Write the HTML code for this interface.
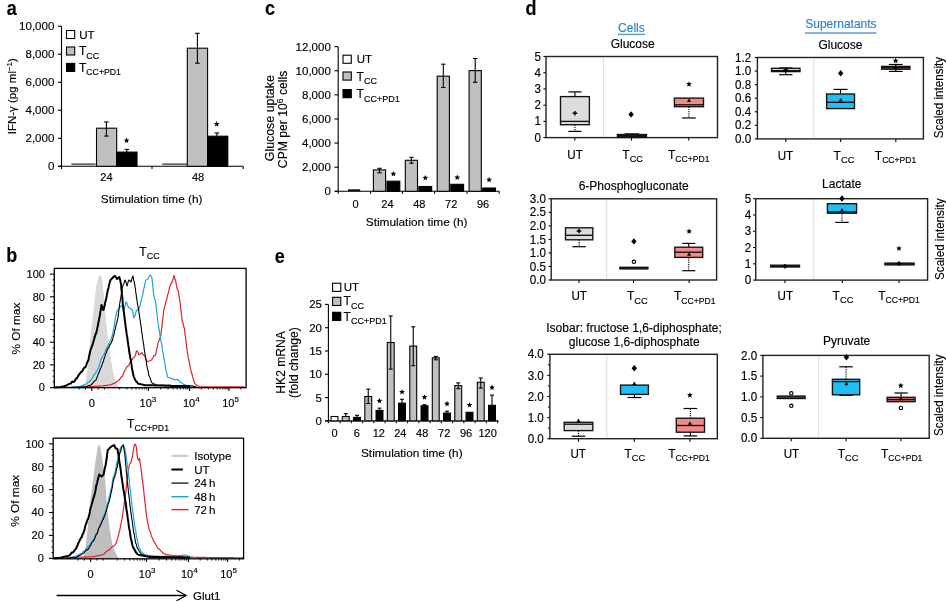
<!DOCTYPE html>
<html><head><meta charset="utf-8"><style>
html,body{margin:0;padding:0;background:#fff;}
svg{display:block;will-change:transform;}
text{font-family:"Liberation Sans", sans-serif;stroke:#000;stroke-width:0.15px;}
</style></head><body>
<svg width="946" height="602" viewBox="0 0 946 602">
<rect x="0" y="0" width="946" height="602" fill="#fff"/>
<text transform="translate(6.8,14.6) scale(0.9,1.0)" font-size="20" font-weight="bold">a</text>
<text transform="translate(6.2,262.4) scale(0.9,1.0)" font-size="20" font-weight="bold">b</text>
<text transform="translate(265,14.6) scale(0.9,1.0)" font-size="20" font-weight="bold">c</text>
<text transform="translate(525.6,14.6) scale(0.9,1.0)" font-size="20" font-weight="bold">d</text>
<text transform="translate(274.8,263.4) scale(0.9,1.0)" font-size="20" font-weight="bold">e</text>
<line x1="61.5" y1="26.2" x2="61.5" y2="169" stroke="#000" stroke-width="1.1"/>
<line x1="58" y1="166.3" x2="243.2" y2="166.3" stroke="#000" stroke-width="1.1"/>
<line x1="58" y1="166.3" x2="61.5" y2="166.3" stroke="#000" stroke-width="1.1"/>
<text transform="translate(54.3,170.2)" font-size="11.5" text-anchor="end">0</text>
<line x1="58" y1="138.28" x2="61.5" y2="138.28" stroke="#000" stroke-width="1.1"/>
<text transform="translate(54.3,142.18)" font-size="11.5" text-anchor="end">2,000</text>
<line x1="58" y1="110.26" x2="61.5" y2="110.26" stroke="#000" stroke-width="1.1"/>
<text transform="translate(54.3,114.16)" font-size="11.5" text-anchor="end">4,000</text>
<line x1="58" y1="82.24" x2="61.5" y2="82.24" stroke="#000" stroke-width="1.1"/>
<text transform="translate(54.3,86.14)" font-size="11.5" text-anchor="end">6,000</text>
<line x1="58" y1="54.22" x2="61.5" y2="54.22" stroke="#000" stroke-width="1.1"/>
<text transform="translate(54.3,58.12)" font-size="11.5" text-anchor="end">8,000</text>
<line x1="58" y1="26.2" x2="61.5" y2="26.2" stroke="#000" stroke-width="1.1"/>
<text transform="translate(54.3,30.1)" font-size="11.5" text-anchor="end">10,000</text>
<line x1="152" y1="166.3" x2="152" y2="169" stroke="#000" stroke-width="1.1"/>
<line x1="243.2" y1="166.3" x2="243.2" y2="169" stroke="#000" stroke-width="1.1"/>
<line x1="71.4" y1="164.2" x2="95.5" y2="164.2" stroke="#666" stroke-width="1.8"/>
<rect x="96.5" y="128.2" width="20.2" height="38.1" fill="#c0c0c0" stroke="#000" stroke-width="1.1"/>
<rect x="116.7" y="152.1" width="20.3" height="14.2" fill="#000" stroke="#000" stroke-width="1.1"/>
<line x1="106.4" y1="122" x2="106.4" y2="136.1" stroke="#000" stroke-width="1.1"/>
<line x1="104.1" y1="122" x2="108.7" y2="122" stroke="#000" stroke-width="1.1"/>
<line x1="104.1" y1="136.1" x2="108.7" y2="136.1" stroke="#000" stroke-width="1.1"/>
<line x1="126.8" y1="149.4" x2="126.8" y2="152.1" stroke="#000" stroke-width="1.1"/>
<line x1="124.5" y1="149.4" x2="129.1" y2="149.4" stroke="#000" stroke-width="1.1"/>
<path d="M126.6,137.6 L127.39,139.51 L129.45,139.67 L127.88,141.02 L128.36,143.03 L126.6,141.95 L124.84,143.03 L125.32,141.02 L123.75,139.67 L125.81,139.51Z" fill="#000" stroke-linejoin="round"/>
<line x1="162.4" y1="164.2" x2="187.3" y2="164.2" stroke="#666" stroke-width="1.8"/>
<rect x="187.3" y="48.2" width="20.3" height="118.1" fill="#c0c0c0" stroke="#000" stroke-width="1.1"/>
<rect x="207.6" y="136.2" width="20.2" height="30.1" fill="#000" stroke="#000" stroke-width="1.1"/>
<line x1="197.4" y1="33.3" x2="197.4" y2="63.2" stroke="#000" stroke-width="1.1"/>
<line x1="195.1" y1="33.3" x2="199.7" y2="33.3" stroke="#000" stroke-width="1.1"/>
<line x1="195.1" y1="63.2" x2="199.7" y2="63.2" stroke="#000" stroke-width="1.1"/>
<line x1="216.9" y1="133" x2="216.9" y2="136.2" stroke="#000" stroke-width="1.1"/>
<line x1="214.6" y1="133" x2="219.2" y2="133" stroke="#000" stroke-width="1.1"/>
<path d="M216.7,121.1 L217.49,123.01 L219.55,123.17 L217.98,124.52 L218.46,126.53 L216.7,125.45 L214.94,126.53 L215.42,124.52 L213.85,123.17 L215.91,123.01Z" fill="#000" stroke-linejoin="round"/>
<text transform="translate(106.4,181.2)" font-size="11" text-anchor="middle">24</text>
<text transform="translate(198,181.2)" font-size="11" text-anchor="middle">48</text>
<text transform="translate(151.6,202.6)" font-size="11.8" text-anchor="middle">Stimulation time (h)</text>
<text transform="translate(15.6,96.2) rotate(-90)" font-size="11.5" text-anchor="middle">IFN-γ (pg ml<tspan font-size="8" dy="-4">−1</tspan><tspan dy="4">)</tspan></text>
<rect x="66.5" y="30.5" width="8.2" height="8" fill="#fff" stroke="#000" stroke-width="1.1"/>
<rect x="66.5" y="47" width="8.2" height="8" fill="#c0c0c0" stroke="#000" stroke-width="1.1"/>
<rect x="66.5" y="63.4" width="8.2" height="8" fill="#000" stroke="#000" stroke-width="1.1"/>
<text transform="translate(79.3,38.6)" font-size="11.5">UT</text>
<text transform="translate(79,55)" font-size="12">T<tspan font-size="9" dy="3.6">CC</tspan></text>
<text transform="translate(79,71.5)" font-size="12">T<tspan font-size="8.7" dy="3.6">CC+PD1</tspan></text>
<line x1="338.2" y1="46.64" x2="338.2" y2="193.8" stroke="#000" stroke-width="1.1"/>
<line x1="335" y1="191.3" x2="499.2" y2="191.3" stroke="#000" stroke-width="1.1"/>
<line x1="334.5" y1="191.3" x2="338.2" y2="191.3" stroke="#000" stroke-width="1.1"/>
<text transform="translate(330.8,195.2)" font-size="11.5" text-anchor="end">0</text>
<line x1="334.5" y1="167.19" x2="338.2" y2="167.19" stroke="#000" stroke-width="1.1"/>
<text transform="translate(330.8,171.09)" font-size="11.5" text-anchor="end">2,000</text>
<line x1="334.5" y1="143.08" x2="338.2" y2="143.08" stroke="#000" stroke-width="1.1"/>
<text transform="translate(330.8,146.98)" font-size="11.5" text-anchor="end">4,000</text>
<line x1="334.5" y1="118.97" x2="338.2" y2="118.97" stroke="#000" stroke-width="1.1"/>
<text transform="translate(330.8,122.87)" font-size="11.5" text-anchor="end">6,000</text>
<line x1="334.5" y1="94.86" x2="338.2" y2="94.86" stroke="#000" stroke-width="1.1"/>
<text transform="translate(330.8,98.76)" font-size="11.5" text-anchor="end">8,000</text>
<line x1="334.5" y1="70.75" x2="338.2" y2="70.75" stroke="#000" stroke-width="1.1"/>
<text transform="translate(330.8,74.65)" font-size="11.5" text-anchor="end">10,000</text>
<line x1="334.5" y1="46.64" x2="338.2" y2="46.64" stroke="#000" stroke-width="1.1"/>
<text transform="translate(330.8,50.54)" font-size="11.5" text-anchor="end">12,000</text>
<line x1="370.6" y1="191.3" x2="370.6" y2="193.8" stroke="#000" stroke-width="1.1"/>
<line x1="402.5" y1="191.3" x2="402.5" y2="193.8" stroke="#000" stroke-width="1.1"/>
<line x1="434.6" y1="191.3" x2="434.6" y2="193.8" stroke="#000" stroke-width="1.1"/>
<line x1="467" y1="191.3" x2="467" y2="193.8" stroke="#000" stroke-width="1.1"/>
<line x1="499.2" y1="191.3" x2="499.2" y2="193.8" stroke="#000" stroke-width="1.1"/>
<rect x="348" y="189.3" width="12.2" height="2" fill="#111"/>
<rect x="373.4" y="169.9" width="12.2" height="21.4" fill="#c0c0c0" stroke="#000" stroke-width="1.1"/>
<rect x="387" y="181.2" width="12.8" height="10.1" fill="#000" stroke="#000" stroke-width="1.1"/>
<line x1="379.5" y1="168.3" x2="379.5" y2="172.8" stroke="#000" stroke-width="1.1"/>
<line x1="377.3" y1="168.3" x2="381.7" y2="168.3" stroke="#000" stroke-width="1.1"/>
<line x1="377.3" y1="172.8" x2="381.7" y2="172.8" stroke="#000" stroke-width="1.1"/>
<path d="M393.4,170.9 L394.19,172.81 L396.25,172.97 L394.68,174.32 L395.16,176.33 L393.4,175.25 L391.64,176.33 L392.12,174.32 L390.55,172.97 L392.61,172.81Z" fill="#000" stroke-linejoin="round"/>
<rect x="405.3" y="160.3" width="12.2" height="31" fill="#c0c0c0" stroke="#000" stroke-width="1.1"/>
<rect x="418.9" y="186.5" width="12.8" height="4.8" fill="#000" stroke="#000" stroke-width="1.1"/>
<line x1="411.4" y1="157.3" x2="411.4" y2="163.2" stroke="#000" stroke-width="1.1"/>
<line x1="409.2" y1="157.3" x2="413.6" y2="157.3" stroke="#000" stroke-width="1.1"/>
<line x1="409.2" y1="163.2" x2="413.6" y2="163.2" stroke="#000" stroke-width="1.1"/>
<path d="M425.3,174.9 L426.09,176.81 L428.15,176.97 L426.58,178.32 L427.06,180.33 L425.3,179.25 L423.54,180.33 L424.02,178.32 L422.45,176.97 L424.51,176.81Z" fill="#000" stroke-linejoin="round"/>
<rect x="437.2" y="76.2" width="12.2" height="115.1" fill="#c0c0c0" stroke="#000" stroke-width="1.1"/>
<rect x="450.8" y="184.3" width="12.8" height="7" fill="#000" stroke="#000" stroke-width="1.1"/>
<line x1="443.3" y1="64.2" x2="443.3" y2="87.5" stroke="#000" stroke-width="1.1"/>
<line x1="441.1" y1="64.2" x2="445.5" y2="64.2" stroke="#000" stroke-width="1.1"/>
<line x1="441.1" y1="87.5" x2="445.5" y2="87.5" stroke="#000" stroke-width="1.1"/>
<path d="M457.2,174.5 L457.99,176.41 L460.05,176.57 L458.48,177.92 L458.96,179.93 L457.2,178.85 L455.44,179.93 L455.92,177.92 L454.35,176.57 L456.41,176.41Z" fill="#000" stroke-linejoin="round"/>
<rect x="469.1" y="70.6" width="12.2" height="120.7" fill="#c0c0c0" stroke="#000" stroke-width="1.1"/>
<rect x="482.7" y="188" width="12.8" height="3.3" fill="#000" stroke="#000" stroke-width="1.1"/>
<line x1="475.2" y1="58.5" x2="475.2" y2="82.3" stroke="#000" stroke-width="1.1"/>
<line x1="473" y1="58.5" x2="477.4" y2="58.5" stroke="#000" stroke-width="1.1"/>
<line x1="473" y1="82.3" x2="477.4" y2="82.3" stroke="#000" stroke-width="1.1"/>
<path d="M489.1,176.8 L489.89,178.71 L491.95,178.87 L490.38,180.22 L490.86,182.23 L489.1,181.15 L487.34,182.23 L487.82,180.22 L486.25,178.87 L488.31,178.71Z" fill="#000" stroke-linejoin="round"/>
<text transform="translate(355.5,207.8)" font-size="11" text-anchor="middle">0</text>
<text transform="translate(387.4,207.8)" font-size="11" text-anchor="middle">24</text>
<text transform="translate(419.3,207.8)" font-size="11" text-anchor="middle">48</text>
<text transform="translate(451.2,207.8)" font-size="11" text-anchor="middle">72</text>
<text transform="translate(483.1,207.8)" font-size="11" text-anchor="middle">96</text>
<text transform="translate(416.6,225.8)" font-size="11.8" text-anchor="middle">Stimulation time (h)</text>
<text transform="translate(274.4,118.2) rotate(-90)" font-size="12.4" text-anchor="middle">Glucose uptake</text>
<text transform="translate(286.7,119.4) rotate(-90)" font-size="12.2" text-anchor="middle">CPM per 10<tspan font-size="8.5" dy="-4.2">6</tspan><tspan dy="4.2"> cells</tspan></text>
<rect x="343" y="55.2" width="8.3" height="8.1" fill="#fff" stroke="#000" stroke-width="1.1"/>
<rect x="343" y="72" width="8.3" height="8.1" fill="#c0c0c0" stroke="#000" stroke-width="1.1"/>
<rect x="343" y="89.6" width="8.3" height="8.1" fill="#000" stroke="#000" stroke-width="1.1"/>
<text transform="translate(356.8,63.1)" font-size="11.5">UT</text>
<text transform="translate(356.6,80.5)" font-size="12">T<tspan font-size="9" dy="3.6">CC</tspan></text>
<text transform="translate(356.6,97.9)" font-size="12">T<tspan font-size="9" dy="3.6">CC+PD1</tspan></text>
<line x1="328.4" y1="304.4" x2="328.4" y2="423.3" stroke="#000" stroke-width="1.1"/>
<line x1="325" y1="420.9" x2="498.6" y2="420.9" stroke="#000" stroke-width="1.1"/>
<line x1="325" y1="420.9" x2="328.4" y2="420.9" stroke="#000" stroke-width="1.1"/>
<text transform="translate(322,424.8)" font-size="11.5" text-anchor="end">0</text>
<line x1="325" y1="397.6" x2="328.4" y2="397.6" stroke="#000" stroke-width="1.1"/>
<text transform="translate(322,401.5)" font-size="11.5" text-anchor="end">5</text>
<line x1="325" y1="374.3" x2="328.4" y2="374.3" stroke="#000" stroke-width="1.1"/>
<text transform="translate(322,378.2)" font-size="11.5" text-anchor="end">10</text>
<line x1="325" y1="351" x2="328.4" y2="351" stroke="#000" stroke-width="1.1"/>
<text transform="translate(322,354.9)" font-size="11.5" text-anchor="end">15</text>
<line x1="325" y1="327.7" x2="328.4" y2="327.7" stroke="#000" stroke-width="1.1"/>
<text transform="translate(322,331.6)" font-size="11.5" text-anchor="end">20</text>
<line x1="325" y1="304.4" x2="328.4" y2="304.4" stroke="#000" stroke-width="1.1"/>
<text transform="translate(322,308.3)" font-size="11.5" text-anchor="end">25</text>
<line x1="340.1" y1="420.9" x2="340.1" y2="423.3" stroke="#000" stroke-width="1.1"/>
<line x1="351.35" y1="420.9" x2="351.35" y2="423.3" stroke="#000" stroke-width="1.1"/>
<line x1="362.6" y1="420.9" x2="362.6" y2="423.3" stroke="#000" stroke-width="1.1"/>
<line x1="373.85" y1="420.9" x2="373.85" y2="423.3" stroke="#000" stroke-width="1.1"/>
<line x1="385.1" y1="420.9" x2="385.1" y2="423.3" stroke="#000" stroke-width="1.1"/>
<line x1="396.35" y1="420.9" x2="396.35" y2="423.3" stroke="#000" stroke-width="1.1"/>
<line x1="407.6" y1="420.9" x2="407.6" y2="423.3" stroke="#000" stroke-width="1.1"/>
<line x1="418.85" y1="420.9" x2="418.85" y2="423.3" stroke="#000" stroke-width="1.1"/>
<line x1="430.1" y1="420.9" x2="430.1" y2="423.3" stroke="#000" stroke-width="1.1"/>
<line x1="441.35" y1="420.9" x2="441.35" y2="423.3" stroke="#000" stroke-width="1.1"/>
<line x1="452.6" y1="420.9" x2="452.6" y2="423.3" stroke="#000" stroke-width="1.1"/>
<line x1="463.85" y1="420.9" x2="463.85" y2="423.3" stroke="#000" stroke-width="1.1"/>
<line x1="475.1" y1="420.9" x2="475.1" y2="423.3" stroke="#000" stroke-width="1.1"/>
<line x1="486.35" y1="420.9" x2="486.35" y2="423.3" stroke="#000" stroke-width="1.1"/>
<line x1="497.6" y1="420.9" x2="497.6" y2="423.3" stroke="#000" stroke-width="1.1"/>
<rect x="331.05" y="416.5" width="6.9" height="4.4" fill="#fff" stroke="#000" stroke-width="1.1"/>
<rect x="342.3" y="416.5" width="6.9" height="4.4" fill="#c0c0c0" stroke="#000" stroke-width="1.1"/>
<line x1="345.75" y1="413.6" x2="345.75" y2="416.5" stroke="#000" stroke-width="1.1"/>
<line x1="343.75" y1="413.6" x2="347.75" y2="413.6" stroke="#000" stroke-width="1.1"/>
<rect x="353.55" y="417.4" width="6.9" height="3.5" fill="#000" stroke="#000" stroke-width="1.1"/>
<line x1="357" y1="415.3" x2="357" y2="417.4" stroke="#000" stroke-width="1.1"/>
<line x1="355" y1="415.3" x2="359" y2="415.3" stroke="#000" stroke-width="1.1"/>
<rect x="364.8" y="396.5" width="6.9" height="24.4" fill="#c0c0c0" stroke="#000" stroke-width="1.1"/>
<line x1="368.25" y1="389.1" x2="368.25" y2="403.5" stroke="#000" stroke-width="1.1"/>
<line x1="366.25" y1="389.1" x2="370.25" y2="389.1" stroke="#000" stroke-width="1.1"/>
<line x1="366.25" y1="403.5" x2="370.25" y2="403.5" stroke="#000" stroke-width="1.1"/>
<rect x="376.05" y="410.4" width="6.9" height="10.5" fill="#000" stroke="#000" stroke-width="1.1"/>
<line x1="379.5" y1="408.2" x2="379.5" y2="410.4" stroke="#000" stroke-width="1.1"/>
<line x1="377.5" y1="408.2" x2="381.5" y2="408.2" stroke="#000" stroke-width="1.1"/>
<path d="M379.5,397.9 L380.29,399.81 L382.35,399.97 L380.78,401.32 L381.26,403.33 L379.5,402.25 L377.74,403.33 L378.22,401.32 L376.65,399.97 L378.71,399.81Z" fill="#000" stroke-linejoin="round"/>
<rect x="387.3" y="342.5" width="6.9" height="78.4" fill="#c0c0c0" stroke="#000" stroke-width="1.1"/>
<line x1="390.75" y1="315.9" x2="390.75" y2="369.1" stroke="#000" stroke-width="1.1"/>
<line x1="388.75" y1="315.9" x2="392.75" y2="315.9" stroke="#000" stroke-width="1.1"/>
<line x1="388.75" y1="369.1" x2="392.75" y2="369.1" stroke="#000" stroke-width="1.1"/>
<rect x="398.55" y="403.2" width="6.9" height="17.7" fill="#000" stroke="#000" stroke-width="1.1"/>
<line x1="402" y1="399.3" x2="402" y2="403.2" stroke="#000" stroke-width="1.1"/>
<line x1="400" y1="399.3" x2="404" y2="399.3" stroke="#000" stroke-width="1.1"/>
<path d="M402,389 L402.79,390.91 L404.85,391.07 L403.28,392.42 L403.76,394.43 L402,393.35 L400.24,394.43 L400.72,392.42 L399.15,391.07 L401.21,390.91Z" fill="#000" stroke-linejoin="round"/>
<rect x="409.8" y="346.1" width="6.9" height="74.8" fill="#c0c0c0" stroke="#000" stroke-width="1.1"/>
<line x1="413.25" y1="326.8" x2="413.25" y2="365.7" stroke="#000" stroke-width="1.1"/>
<line x1="411.25" y1="326.8" x2="415.25" y2="326.8" stroke="#000" stroke-width="1.1"/>
<line x1="411.25" y1="365.7" x2="415.25" y2="365.7" stroke="#000" stroke-width="1.1"/>
<rect x="421.05" y="405.8" width="6.9" height="15.1" fill="#000" stroke="#000" stroke-width="1.1"/>
<line x1="424.5" y1="404.7" x2="424.5" y2="405.8" stroke="#000" stroke-width="1.1"/>
<line x1="422.5" y1="404.7" x2="426.5" y2="404.7" stroke="#000" stroke-width="1.1"/>
<path d="M424.5,394.2 L425.29,396.11 L427.35,396.27 L425.78,397.62 L426.26,399.63 L424.5,398.55 L422.74,399.63 L423.22,397.62 L421.65,396.27 L423.71,396.11Z" fill="#000" stroke-linejoin="round"/>
<rect x="432.3" y="357.8" width="6.9" height="63.1" fill="#c0c0c0" stroke="#000" stroke-width="1.1"/>
<line x1="435.75" y1="356.4" x2="435.75" y2="359.8" stroke="#000" stroke-width="1.1"/>
<line x1="433.75" y1="356.4" x2="437.75" y2="356.4" stroke="#000" stroke-width="1.1"/>
<line x1="433.75" y1="359.8" x2="437.75" y2="359.8" stroke="#000" stroke-width="1.1"/>
<rect x="443.55" y="413.1" width="6.9" height="7.8" fill="#000" stroke="#000" stroke-width="1.1"/>
<line x1="447" y1="411.2" x2="447" y2="413.1" stroke="#000" stroke-width="1.1"/>
<line x1="445" y1="411.2" x2="449" y2="411.2" stroke="#000" stroke-width="1.1"/>
<path d="M447,400.8 L447.79,402.71 L449.85,402.87 L448.28,404.22 L448.76,406.23 L447,405.15 L445.24,406.23 L445.72,404.22 L444.15,402.87 L446.21,402.71Z" fill="#000" stroke-linejoin="round"/>
<rect x="454.8" y="385.6" width="6.9" height="35.3" fill="#c0c0c0" stroke="#000" stroke-width="1.1"/>
<line x1="458.25" y1="382.9" x2="458.25" y2="388.7" stroke="#000" stroke-width="1.1"/>
<line x1="456.25" y1="382.9" x2="460.25" y2="382.9" stroke="#000" stroke-width="1.1"/>
<line x1="456.25" y1="388.7" x2="460.25" y2="388.7" stroke="#000" stroke-width="1.1"/>
<rect x="466.05" y="412.3" width="6.9" height="8.6" fill="#000" stroke="#000" stroke-width="1.1"/>
<path d="M469.5,402 L470.29,403.91 L472.35,404.07 L470.78,405.42 L471.26,407.43 L469.5,406.35 L467.74,407.43 L468.22,405.42 L466.65,404.07 L468.71,403.91Z" fill="#000" stroke-linejoin="round"/>
<rect x="477.3" y="382.3" width="6.9" height="38.6" fill="#c0c0c0" stroke="#000" stroke-width="1.1"/>
<line x1="480.75" y1="378" x2="480.75" y2="388.1" stroke="#000" stroke-width="1.1"/>
<line x1="478.75" y1="378" x2="482.75" y2="378" stroke="#000" stroke-width="1.1"/>
<line x1="478.75" y1="388.1" x2="482.75" y2="388.1" stroke="#000" stroke-width="1.1"/>
<rect x="488.55" y="405.3" width="6.9" height="15.6" fill="#000" stroke="#000" stroke-width="1.1"/>
<line x1="492" y1="395.1" x2="492" y2="405.3" stroke="#000" stroke-width="1.1"/>
<line x1="490" y1="395.1" x2="494" y2="395.1" stroke="#000" stroke-width="1.1"/>
<path d="M492,384.6 L492.79,386.51 L494.85,386.67 L493.28,388.02 L493.76,390.03 L492,388.95 L490.24,390.03 L490.72,388.02 L489.15,386.67 L491.21,386.51Z" fill="#000" stroke-linejoin="round"/>
<text transform="translate(334.6,436.8)" font-size="11" text-anchor="middle">0</text>
<text transform="translate(356.8,436.8)" font-size="11" text-anchor="middle">6</text>
<text transform="translate(378.8,436.8)" font-size="11" text-anchor="middle">12</text>
<text transform="translate(400.3,436.8)" font-size="11" text-anchor="middle">24</text>
<text transform="translate(422.2,436.8)" font-size="11" text-anchor="middle">48</text>
<text transform="translate(444.2,436.8)" font-size="11" text-anchor="middle">72</text>
<text transform="translate(466,436.8)" font-size="11" text-anchor="middle">96</text>
<text transform="translate(487.6,436.8)" font-size="11" text-anchor="middle">120</text>
<text transform="translate(411.8,457.1)" font-size="11.8" text-anchor="middle">Stimulation time (h)</text>
<text transform="translate(284.8,362.4) rotate(-90)" font-size="12.1" text-anchor="middle">HK2 mRNA</text>
<text transform="translate(298,362.6) rotate(-90)" font-size="12.1" text-anchor="middle">(fold change)</text>
<rect x="332.6" y="283.2" width="8.2" height="8.2" fill="#fff" stroke="#000" stroke-width="1.1"/>
<rect x="332.6" y="297.3" width="8.2" height="8.2" fill="#c0c0c0" stroke="#000" stroke-width="1.1"/>
<rect x="332.6" y="312.3" width="8.2" height="8.2" fill="#000" stroke="#000" stroke-width="1.1"/>
<text transform="translate(343.8,290.9)" font-size="11.5">UT</text>
<text transform="translate(343.6,305.4)" font-size="12">T<tspan font-size="9" dy="3.6">CC</tspan></text>
<text transform="translate(343.6,320.5)" font-size="12">T<tspan font-size="9" dy="3.6">CC+PD1</tspan></text>
<path d="M80,387.6 L85,384 L87.5,370 L90,339.8 L93,315.8 L96,288 L98.5,276.5 L100.5,274.8 L101.9,278 L103.9,296 L105.9,319.8 L108.9,345.7 L110.9,359.7 L112.9,371.7 L115.9,381.6 L119,386.5 L122,387.6Z" fill="#d9d9d9" stroke-linejoin="round"/>
<path d="M56,387.4 L57.6,387.39 L59.2,387.39 L60.8,387.38 L62.4,387.37 L64,387.37 L65.6,387.36 L67.2,387.35 L68.8,387.35 L70.4,387.34 L72,387.33 L73.6,387.33 L75.2,387.32 L76.8,387.31 L78.4,387.31 L80,387.3 L81.66,387.2 L83.32,387.1 L84.98,387 L86.65,386.9 L88.31,386.8 L89.97,386.7 L91.63,386.6 L93.29,386.5 L94.95,386.4 L96.62,386.3 L98.28,386.2 L99.94,386.1 L101.6,386 L103.28,385.8 L104.96,385.6 L106.64,385.4 L108.32,385.2 L110,385 L111.67,384.33 L113.33,383.67 L115,383 L116.5,381.68 L118,381 L120,379 L121,377.04 L122,376.61 L123,375 L123.67,372.56 L124.33,371.73 L125,370 L126,368.46 L127,366.6 L128,366.11 L129,364.8 L129.97,362.57 L130.93,361.88 L131.9,359.83 L132.87,358.46 L133.83,357.66 L134.8,356.4 L135.5,355.09 L136.2,351.92 L136.9,350.7 L137.9,352.2 L138.9,354.7 L140.4,353.93 L141.9,352.7 L143.4,355.01 L144.9,355.7 L145.57,357.84 L146.23,359.51 L146.9,361.7 L149.9,360.7 L151.4,360.06 L152.9,357.7 L153.9,355.55 L154.9,355.68 L155.9,353.7 L156.23,351.65 L156.57,349.73 L156.9,348.01 L157.23,346.69 L157.57,345.94 L157.9,343.7 L158.48,341.55 L159.06,340.69 L159.64,339.21 L160.22,337.15 L160.8,335.8 L161.01,334.16 L161.23,331.56 L161.44,329.83 L161.65,328.37 L161.86,327.5 L162.07,325.32 L162.29,323.39 L162.5,322 L162.69,320.43 L162.87,318.46 L163.06,316.45 L163.24,315.62 L163.43,313.72 L163.61,311.17 L163.8,309.9 L164.23,308.31 L164.65,306.5 L165.07,305.4 L165.5,303 L165.96,301.77 L166.42,299.34 L166.88,298.94 L167.34,295.75 L167.8,294.8 L168.22,293.01 L168.64,291.98 L169.06,289.25 L169.48,288.22 L169.9,286.6 L170.9,283.72 L171.9,282.5 L172.45,281.05 L173,279 L173.5,277.63 L174,275.3 L174.5,277 L175,279.11 L175.5,280 L175.82,281.4 L176.14,283.83 L176.46,285.39 L176.78,287.1 L177.1,288.7 L177.8,290.27 L178.5,292 L178.78,294.45 L179.07,296.47 L179.35,297.45 L179.63,299.63 L179.92,300.38 L180.2,303 L180.38,305.05 L180.56,306.65 L180.75,308.96 L180.93,310.34 L181.11,311.07 L181.29,312.94 L181.47,315.14 L181.65,315.67 L181.84,318.15 L182.02,319.31 L182.2,321.6 L182.72,322.46 L183.25,323.91 L183.78,326.73 L184.3,327.8 L184.51,328.88 L184.73,330.83 L184.94,332.83 L185.16,335.44 L185.37,335.76 L185.59,338.17 L185.8,340 L186.03,341.87 L186.26,344.26 L186.49,345.93 L186.71,347.8 L186.94,348.53 L187.17,350.56 L187.4,352.5 L187.7,353.89 L188,356.48 L188.3,358.25 L188.6,358.44 L188.9,360.13 L189.2,361.87 L189.5,364 L189.9,365.34 L190.3,367.61 L190.7,369.62 L191.1,370.85 L191.5,373.1 L192,373.93 L192.5,376.4 L193,378.04 L193.5,380 L194.2,381.59 L194.9,383.75 L195.6,384.4 L196.97,385.23 L198.33,386.07 L199.7,386.9 L201.3,386.9 L202.9,386.9 L204.5,386.9 L206.1,386.9 L207.7,386.9 L209.3,386.9 L210.9,386.9 L212.5,386.9 L214.1,386.9 L215.7,386.9 L217.3,386.9 L218.9,386.9 L220.5,386.9 L222.1,386.9 L223.7,386.9 L225.3,386.9 L226.9,386.9 L228.5,386.9 L230.1,386.9 L231.7,386.9 L233.3,386.9 L234.9,386.9 L236.5,386.9 L238.1,386.9 L239.7,386.9 L241.3,386.9 L242.9,386.9 L244.5,386.9" fill="none" stroke="#db2529" stroke-width="1.2" stroke-linejoin="round"/>
<path d="M70,387.3 L71.67,387.17 L73.33,387.03 L75,386.9 L76.67,386.77 L78.33,386.63 L80,386.5 L81.67,385.83 L83.33,385.17 L85,384.5 L86.67,383.68 L88.33,382.19 L90,381 L91,379.88 L92,378.65 L93,377 L94,374.53 L95,374.39 L96,372 L96.75,371 L97.5,369.67 L98.25,368.04 L99,366 L99.67,363.81 L100.33,361.82 L101,360 L102,357.29 L103,356 L104,354.24 L105,352 L105.75,349.71 L106.5,348.22 L107.25,346.98 L108,346 L108.75,343.89 L109.5,342.71 L110.25,340.69 L111,340 L111.5,337.43 L112,336.04 L112.5,335 L112.83,332.62 L113.17,331.42 L113.5,330 L113.77,327.51 L114.05,327.4 L114.32,325.3 L114.59,322.82 L114.86,321.37 L115.14,319.91 L115.41,318.3 L115.68,316.23 L115.95,315.9 L116.23,314.52 L116.5,312 L117.75,310.19 L119,308.5 L120,307.17 L121,305.9 L122,306.49 L123,307.85 L124,309.9 L124.4,308.02 L124.8,306.28 L125.2,305.69 L125.6,302.89 L126,301.9 L126.75,302.54 L127.5,305.71 L128.25,306.45 L129,307.9 L130.5,308.26 L132,309.9 L132.4,311.56 L132.8,312.21 L133.2,314.69 L133.6,317.08 L134,317.8 L134.58,316.87 L135.16,314.99 L135.74,312.63 L136.32,311.24 L136.9,309.9 L138.9,309.9 L139.3,307.58 L139.7,306.94 L140.1,304.78 L140.5,303 L140.97,301.8 L141.43,299.29 L141.9,297.9 L142.23,295.75 L142.57,295.16 L142.9,293.82 L143.23,291.93 L143.57,290.2 L143.9,288 L144.3,286.97 L144.7,285.23 L145.1,282.71 L145.5,281.63 L145.9,280 L147.9,279 L148.9,276.74 L149.9,275 L150.9,275.65 L151.9,278 L152.08,278.78 L152.26,280.86 L152.45,282.45 L152.63,284.86 L152.81,286.96 L152.99,287.67 L153.17,290.18 L153.35,291.9 L153.54,293.46 L153.72,294.03 L153.9,295.9 L154.3,297 L154.7,298.61 L155.1,300.15 L155.5,301.77 L155.9,303.9 L156.08,305.75 L156.26,307.88 L156.45,309.39 L156.63,310.37 L156.81,312.31 L156.99,314.2 L157.17,314.54 L157.35,317.21 L157.54,319.28 L157.72,320.68 L157.9,321.8 L158.16,323.89 L158.43,325.03 L158.69,326.13 L158.95,328.87 L159.22,329.68 L159.48,332.16 L159.75,334.1 L160.01,334.7 L160.27,336.35 L160.54,338.97 L160.8,339.8 L161.1,341.92 L161.4,342.65 L161.7,344.29 L162,346.05 L162.3,349.13 L162.6,350.67 L162.9,351.2 L163.2,354.15 L163.5,356.14 L163.8,357 L164.08,359.12 L164.37,360.4 L164.65,362.59 L164.93,363.67 L165.22,365.29 L165.5,368 L165.96,370.69 L166.42,371.95 L166.88,373.57 L167.34,376.14 L167.8,377.2 L169.9,377.88 L172,378.8 L173.7,379.64 L175.4,379.72 L177.1,379.3 L178.55,380.13 L180,382 L181.65,382.75 L183.3,384.4 L184.98,384.92 L186.65,385.45 L188.32,385.98 L190,386.5 L191.87,386.77 L193.73,387.03 L195.6,387.3" fill="none" stroke="#1fa3dc" stroke-width="1.2" stroke-linejoin="round"/>
<path d="M72,387.4 L73.62,387.32 L75.25,387.25 L76.88,387.18 L78.5,387.1 L80.12,387.02 L81.75,386.95 L83.38,386.88 L85,386.8 L87,386.2 L89,385.6 L91,385 L92.25,383.75 L93.5,382.13 L94.75,380.78 L96,380 L96.61,378.6 L97.22,376.46 L97.83,375.19 L98.44,373.11 L99.06,372.96 L99.67,370.4 L100.28,369.04 L100.89,367.71 L101.5,366 L102.06,365.17 L102.61,362.75 L103.17,362.09 L103.72,359.78 L104.28,358.28 L104.83,356.71 L105.39,354.24 L105.94,353.45 L106.5,352 L107.25,349.93 L108,348.11 L108.75,348.04 L109.5,345.41 L110.25,344.45 L111,343.41 L111.75,341.6 L112.5,340 L112.92,338.02 L113.33,336.7 L113.75,335.1 L114.17,333.85 L114.58,330.96 L115,330 L115.41,328.37 L115.83,326.06 L116.24,324.37 L116.66,323.52 L117.07,321.3 L117.49,319.65 L117.9,317.8 L118.1,316.67 L118.3,315.34 L118.5,312.9 L118.7,311.6 L118.9,309.81 L119.1,308.22 L119.3,306.95 L119.5,305 L119.8,303.11 L120.1,301.46 L120.4,299.56 L120.7,298.59 L121,296 L121.33,294.53 L121.67,293.01 L122,291.3 L122.33,288.23 L122.67,286.94 L123,285 L123.67,284.13 L124.33,282.28 L125,280 L125.67,281.35 L126.33,283.32 L127,286 L127.67,283.9 L128.33,281.23 L129,280 L131,282 L131.67,279.53 L132.33,277.23 L133,276 L133.33,277.97 L133.67,279.84 L134,281.71 L134.33,282.04 L134.67,284.72 L135,286 L135.24,288.03 L135.47,288.83 L135.71,291.9 L135.95,293.79 L136.19,294.18 L136.43,297.24 L136.66,297.98 L136.9,299.9 L137.19,301.59 L137.47,304.21 L137.76,305.64 L138.04,306.15 L138.33,308.35 L138.61,310.21 L138.9,311.9 L139.15,313.35 L139.4,314.83 L139.65,316.79 L139.9,319.25 L140.15,319.72 L140.4,322.42 L140.65,323.96 L140.9,325.8 L141.15,326.68 L141.4,329 L141.65,331.27 L141.9,332.82 L142.15,333.77 L142.4,337.17 L142.65,338.57 L142.9,339.8 L143.15,342.39 L143.4,342.56 L143.65,344.59 L143.9,345.92 L144.15,348.99 L144.4,349.81 L144.65,351.3 L144.9,353.7 L145.19,355.27 L145.47,357.87 L145.76,359.42 L146.04,360.12 L146.33,361.64 L146.61,364.74 L146.9,365.7 L147.23,367.48 L147.57,369.36 L147.9,369.91 L148.23,371.5 L148.57,374.29 L148.9,375.6 L149.65,377.22 L150.4,378.33 L151.15,381.64 L151.9,382.6 L153.57,383.71 L155.23,384.33 L156.9,385.2 L158.55,385.23 L160.19,385.25 L161.84,385.28 L163.48,385.31 L165.13,385.34 L166.77,385.36 L168.42,385.39 L170.06,385.42 L171.71,385.45 L173.35,385.47 L175,385.5 L176.7,385.53 L178.4,385.56 L180.1,385.59 L181.8,385.62 L183.5,385.65 L185.2,385.68 L186.9,385.71 L188.6,385.74 L190.3,385.77 L192,385.8 L193.67,386.27 L195.33,386.73 L197,387.2" fill="none" stroke="#000" stroke-width="1.1" stroke-linejoin="round"/>
<path d="M54.5,387.4 L56.33,387.33 L58.17,387.27 L60,387.2 L61.6,386.77 L63.2,386.35 L64.8,385.93 L66.4,385.5 L67.83,384.68 L69.27,383.87 L70.7,383.59 L72.13,381.48 L73.57,382.06 L75,380.6 L76,378.39 L77,378.39 L78,376.22 L79,374.58 L80,373.53 L81,372 L82.12,371.52 L83.25,369.08 L84.38,367.58 L85.5,367 L86.25,365.3 L87,363.03 L87.75,361.05 L88.5,360 L88.83,357.72 L89.17,355.86 L89.5,354.46 L89.83,352.99 L90.17,351.32 L90.5,350 L91.17,348.8 L91.83,346.29 L92.5,345 L93,343.33 L93.5,341.09 L94,339.72 L94.5,337.47 L95,336.22 L95.5,334.13 L96,333.75 L96.5,331.76 L97,330 L97.31,327.82 L97.62,326.7 L97.94,325.91 L98.25,322.79 L98.56,322.45 L98.88,320.13 L99.19,318.62 L99.5,317 L99.79,315.89 L100.07,313.38 L100.36,311.87 L100.64,310.48 L100.93,309.3 L101.21,306.43 L101.5,305 L102.17,307.26 L102.83,308.71 L103.5,310 L103.92,308.58 L104.33,306.5 L104.75,304.73 L105.17,302.53 L105.58,301 L106,300 L106.3,297.63 L106.6,297.23 L106.9,294.76 L107.2,292.99 L107.5,292 L107.88,289.5 L108.25,289.11 L108.62,287.42 L109,285 L109.5,283.64 L110,281.27 L110.5,280 L112,278.5 L113.45,276.79 L114.9,276 L115.95,277.13 L117,279 L119.3,277 L119.72,278.68 L120.15,279.88 L120.58,282.15 L121,284 L121.15,285.26 L121.31,288.2 L121.46,289.9 L121.62,290.82 L121.77,291.96 L121.92,294.95 L122.08,295.45 L122.23,297.22 L122.38,298.26 L122.54,300.63 L122.69,302.49 L122.85,304.22 L123,305.9 L123.2,306.95 L123.4,309.09 L123.6,309.78 L123.8,311.84 L124,313.11 L124.2,315.26 L124.4,316.21 L124.6,317.76 L124.8,319.86 L125,321.8 L125.25,323.07 L125.5,325.45 L125.75,327.1 L126,329.25 L126.25,330.83 L126.5,332.69 L126.75,334.73 L127,335.8 L127.25,337.34 L127.5,338.96 L127.75,341.89 L128,342.12 L128.25,344.89 L128.5,346.48 L128.75,347.14 L129,349.7 L129.29,352.02 L129.57,353.83 L129.86,355.07 L130.14,356.98 L130.43,358.83 L130.71,359.34 L131,361.7 L131.29,363.44 L131.57,365.11 L131.86,367.4 L132.14,369.05 L132.43,370.79 L132.71,372.05 L133,373.6 L133.67,376.31 L134.33,377.93 L135,379.6 L135.97,381.28 L136.93,381.78 L137.9,383.6 L139.65,384 L141.4,384.4 L143.15,384.8 L144.9,385.2 L146.58,385.23 L148.26,385.27 L149.93,385.3 L151.61,385.33 L153.29,385.37 L154.97,385.4 L156.64,385.43 L158.32,385.47 L160,385.5 L161.67,385.56 L163.33,385.61 L165,385.67 L166.67,385.72 L168.33,385.78 L170,385.83 L171.67,385.89 L173.33,385.94 L175,386 L176.67,386.04 L178.33,386.09 L180,386.13 L181.67,386.18 L183.33,386.22 L185,386.27 L186.67,386.31 L188.33,386.36 L190,386.4" fill="none" stroke="#000" stroke-width="2.0" stroke-linejoin="round"/>
<line x1="50" y1="387.6" x2="54.3" y2="387.6" stroke="#000" stroke-width="1.1"/>
<text transform="translate(44.9,391.4)" font-size="11" text-anchor="end">0</text>
<line x1="52.7" y1="381.93" x2="54.3" y2="381.93" stroke="#000" stroke-width="1.0"/>
<line x1="52.7" y1="376.25" x2="54.3" y2="376.25" stroke="#000" stroke-width="1.0"/>
<line x1="52.7" y1="370.58" x2="54.3" y2="370.58" stroke="#000" stroke-width="1.0"/>
<line x1="50" y1="364.9" x2="54.3" y2="364.9" stroke="#000" stroke-width="1.1"/>
<text transform="translate(44.9,368.7)" font-size="11" text-anchor="end">20</text>
<line x1="52.7" y1="359.23" x2="54.3" y2="359.23" stroke="#000" stroke-width="1.0"/>
<line x1="52.7" y1="353.55" x2="54.3" y2="353.55" stroke="#000" stroke-width="1.0"/>
<line x1="52.7" y1="347.88" x2="54.3" y2="347.88" stroke="#000" stroke-width="1.0"/>
<line x1="50" y1="342.2" x2="54.3" y2="342.2" stroke="#000" stroke-width="1.1"/>
<text transform="translate(44.9,346)" font-size="11" text-anchor="end">40</text>
<line x1="52.7" y1="336.53" x2="54.3" y2="336.53" stroke="#000" stroke-width="1.0"/>
<line x1="52.7" y1="330.85" x2="54.3" y2="330.85" stroke="#000" stroke-width="1.0"/>
<line x1="52.7" y1="325.18" x2="54.3" y2="325.18" stroke="#000" stroke-width="1.0"/>
<line x1="50" y1="319.5" x2="54.3" y2="319.5" stroke="#000" stroke-width="1.1"/>
<text transform="translate(44.9,323.3)" font-size="11" text-anchor="end">60</text>
<line x1="52.7" y1="313.83" x2="54.3" y2="313.83" stroke="#000" stroke-width="1.0"/>
<line x1="52.7" y1="308.15" x2="54.3" y2="308.15" stroke="#000" stroke-width="1.0"/>
<line x1="52.7" y1="302.48" x2="54.3" y2="302.48" stroke="#000" stroke-width="1.0"/>
<line x1="50" y1="296.8" x2="54.3" y2="296.8" stroke="#000" stroke-width="1.1"/>
<text transform="translate(44.9,300.6)" font-size="11" text-anchor="end">80</text>
<line x1="52.7" y1="291.12" x2="54.3" y2="291.12" stroke="#000" stroke-width="1.0"/>
<line x1="52.7" y1="285.45" x2="54.3" y2="285.45" stroke="#000" stroke-width="1.0"/>
<line x1="52.7" y1="279.78" x2="54.3" y2="279.78" stroke="#000" stroke-width="1.0"/>
<line x1="50" y1="274.1" x2="54.3" y2="274.1" stroke="#000" stroke-width="1.1"/>
<text transform="translate(44.9,277.9)" font-size="11" text-anchor="end">100</text>
<line x1="91.8" y1="387.7" x2="91.8" y2="390.9" stroke="#000" stroke-width="1.1"/>
<line x1="148.4" y1="387.7" x2="148.4" y2="390.9" stroke="#000" stroke-width="1.1"/>
<line x1="189.6" y1="387.7" x2="189.6" y2="390.9" stroke="#000" stroke-width="1.1"/>
<line x1="229" y1="387.7" x2="229" y2="390.9" stroke="#000" stroke-width="1.1"/>
<line x1="160.8" y1="387.7" x2="160.8" y2="389.5" stroke="#000" stroke-width="0.9"/>
<line x1="168.06" y1="387.7" x2="168.06" y2="389.5" stroke="#000" stroke-width="0.9"/>
<line x1="173.2" y1="387.7" x2="173.2" y2="389.5" stroke="#000" stroke-width="0.9"/>
<line x1="177.2" y1="387.7" x2="177.2" y2="389.5" stroke="#000" stroke-width="0.9"/>
<line x1="180.46" y1="387.7" x2="180.46" y2="389.5" stroke="#000" stroke-width="0.9"/>
<line x1="183.22" y1="387.7" x2="183.22" y2="389.5" stroke="#000" stroke-width="0.9"/>
<line x1="185.61" y1="387.7" x2="185.61" y2="389.5" stroke="#000" stroke-width="0.9"/>
<line x1="187.71" y1="387.7" x2="187.71" y2="389.5" stroke="#000" stroke-width="0.9"/>
<line x1="201.46" y1="387.7" x2="201.46" y2="389.5" stroke="#000" stroke-width="0.9"/>
<line x1="208.4" y1="387.7" x2="208.4" y2="389.5" stroke="#000" stroke-width="0.9"/>
<line x1="213.32" y1="387.7" x2="213.32" y2="389.5" stroke="#000" stroke-width="0.9"/>
<line x1="217.14" y1="387.7" x2="217.14" y2="389.5" stroke="#000" stroke-width="0.9"/>
<line x1="220.26" y1="387.7" x2="220.26" y2="389.5" stroke="#000" stroke-width="0.9"/>
<line x1="222.9" y1="387.7" x2="222.9" y2="389.5" stroke="#000" stroke-width="0.9"/>
<line x1="225.18" y1="387.7" x2="225.18" y2="389.5" stroke="#000" stroke-width="0.9"/>
<line x1="227.2" y1="387.7" x2="227.2" y2="389.5" stroke="#000" stroke-width="0.9"/>
<line x1="119.6" y1="387.7" x2="119.6" y2="389.5" stroke="#000" stroke-width="0.9"/>
<line x1="126.86" y1="387.7" x2="126.86" y2="389.5" stroke="#000" stroke-width="0.9"/>
<line x1="132" y1="387.7" x2="132" y2="389.5" stroke="#000" stroke-width="0.9"/>
<line x1="136" y1="387.7" x2="136" y2="389.5" stroke="#000" stroke-width="0.9"/>
<line x1="139.26" y1="387.7" x2="139.26" y2="389.5" stroke="#000" stroke-width="0.9"/>
<line x1="142.02" y1="387.7" x2="142.02" y2="389.5" stroke="#000" stroke-width="0.9"/>
<line x1="144.41" y1="387.7" x2="144.41" y2="389.5" stroke="#000" stroke-width="0.9"/>
<line x1="146.51" y1="387.7" x2="146.51" y2="389.5" stroke="#000" stroke-width="0.9"/>
<line x1="85.5" y1="387.7" x2="85.5" y2="389.5" stroke="#000" stroke-width="0.9"/>
<line x1="98.1" y1="387.7" x2="98.1" y2="389.5" stroke="#000" stroke-width="0.9"/>
<line x1="79.2" y1="387.7" x2="79.2" y2="389.5" stroke="#000" stroke-width="0.9"/>
<line x1="104.4" y1="387.7" x2="104.4" y2="389.5" stroke="#000" stroke-width="0.9"/>
<line x1="240.86" y1="387.7" x2="240.86" y2="389.5" stroke="#000" stroke-width="0.9"/>
<rect x="54.3" y="268.4" width="191.8" height="119.3" fill="none" stroke="#000" stroke-width="1.3"/>
<text transform="translate(91.8,406.7)" font-size="11" text-anchor="middle">0</text>
<text transform="translate(139.6,406.7)" font-size="11">10<tspan font-size="8" dy="-4.4">3</tspan></text>
<text transform="translate(182.9,406.7)" font-size="11">10<tspan font-size="8" dy="-4.4">4</tspan></text>
<text transform="translate(222.2,406.7)" font-size="11">10<tspan font-size="8" dy="-4.4">5</tspan></text>
<text transform="translate(139.3,255.6)" font-size="12">T<tspan font-size="9" dy="3.6">CC</tspan></text>
<text transform="translate(19.6,328.6) rotate(-90)" font-size="11.8" text-anchor="middle">% Of max</text>
<path d="M80,558.5 L83.4,557 L85.3,550 L88,525 L90.5,500 L92.5,484.6 L95.6,460.3 L98,446.1 L100,444.8 L101.6,454.2 L103.5,468 L105.2,480 L107.2,510 L109.9,530 L112.5,545 L114.6,550.5 L118.5,558.5Z" fill="#bfbfbf" stroke-linejoin="round"/>
<path d="M54,558.2 L55.65,558.13 L57.29,558.07 L58.94,558 L60.58,557.93 L62.23,557.87 L63.88,557.8 L65.52,557.73 L67.17,557.67 L68.81,557.6 L70.46,557.53 L72.1,557.47 L73.75,557.4 L75.4,557.33 L77.04,557.27 L78.69,557.2 L80.33,557.13 L81.98,557.07 L83.62,557 L85.27,556.93 L86.92,556.87 L88.56,556.8 L90.21,556.73 L91.85,556.67 L93.5,556.6 L95.2,556.25 L96.9,555.9 L98.6,555.55 L100.3,555.2 L102,554.85 L103.7,554.5 L105.2,552.41 L106.7,551.34 L108.2,550.5 L109.7,549.5 L111.35,547.24 L113,546.4 L114.5,545.5 L116,543.4 L116.5,541.82 L117,540.26 L117.5,538.58 L118,536.99 L118.5,534.96 L119,533.3 L119.33,530.83 L119.67,530.68 L120,529.01 L120.33,526.99 L120.67,525.47 L121,524.12 L121.33,521.47 L121.67,521.1 L122,519.1 L122.25,516.88 L122.5,514.78 L122.75,513.35 L123,512.41 L123.25,509.69 L123.5,508.88 L123.75,507.53 L124,504.9 L124.25,503.11 L124.5,501.14 L124.75,499.54 L125,498.13 L125.25,496.51 L125.5,494.46 L125.75,492.73 L126,490.7 L126.18,488.28 L126.36,486.76 L126.55,485.29 L126.73,484.52 L126.91,482.08 L127.09,480.89 L127.27,478.24 L127.45,476.67 L127.64,475.39 L127.82,474.46 L128,472.5 L128.3,471.21 L128.6,469.54 L128.9,467.2 L129.2,465.97 L129.5,464.3 L131,462.3 L131.5,460.2 L132,458.17 L132.5,456.2 L132.75,453.83 L133,453.54 L133.25,450.61 L133.5,450.33 L133.75,448.57 L134,446.1 L135,444.1 L135.75,445.23 L136.5,448.1 L136.67,449.73 L136.83,452.08 L137,454.04 L137.17,454.81 L137.33,456.18 L137.5,458.3 L138.5,460.3 L139.5,458.3 L139.75,459.46 L140,462.47 L140.25,462.83 L140.5,465.18 L140.75,466.07 L141,468.4 L141.2,470.06 L141.4,472.45 L141.6,472.6 L141.8,475.46 L142,476.52 L142.2,478.82 L142.4,480.11 L142.6,480.88 L142.8,483.7 L143,484.6 L143.18,486.24 L143.36,487.07 L143.55,488.7 L143.73,491.24 L143.91,492.83 L144.09,494.23 L144.27,495.6 L144.45,497.63 L144.64,499.24 L144.82,501.85 L145,502.9 L145.2,503.62 L145.4,506.59 L145.6,508.37 L145.8,508.7 L146,511.77 L146.2,513 L146.4,514.96 L146.6,515.48 L146.8,517.25 L147,519.1 L147.33,520.59 L147.67,523.36 L148,524.31 L148.33,525.58 L148.67,527.39 L149,529.2 L149.6,530.42 L150.2,531.63 L150.8,533.34 L151.4,536.28 L152,537.3 L152.75,538.44 L153.5,541.13 L154.25,541.42 L155,543.4 L156,544.68 L157,546.82 L158,548.5 L159.33,549.11 L160.67,550.61 L162,552 L163.5,553.52 L165,554.09 L166.5,554.66 L168,554.8 L169.64,555.03 L171.27,555.25 L172.91,555.48 L174.55,555.71 L176.18,555.94 L177.82,556.16 L179.45,556.39 L181.09,556.62 L182.73,556.85 L184.36,557.07 L186,557.3 L187.63,557.31 L189.26,557.33 L190.89,557.34 L192.51,557.36 L194.14,557.37 L195.77,557.39 L197.4,557.4 L199.03,557.41 L200.66,557.43 L202.29,557.44 L203.91,557.46 L205.54,557.47 L207.17,557.49 L208.8,557.5 L210.43,557.51 L212.06,557.53 L213.69,557.54 L215.31,557.56 L216.94,557.57 L218.57,557.59 L220.2,557.6 L221.83,557.61 L223.46,557.63 L225.09,557.64 L226.71,557.66 L228.34,557.67 L229.97,557.69 L231.6,557.7 L233.23,557.71 L234.86,557.73 L236.49,557.74 L238.11,557.76 L239.74,557.77 L241.37,557.79 L243,557.8" fill="none" stroke="#db2529" stroke-width="1.2" stroke-linejoin="round"/>
<path d="M65,558.2 L66.72,557.93 L68.43,557.67 L70.15,557.4 L71.87,557.13 L73.58,556.87 L75.3,556.6 L76.92,555.58 L78.54,554.56 L80.16,553.78 L81.78,553.26 L83.4,551.5 L84.62,551.07 L85.84,549.15 L87.06,548.24 L88.28,545.81 L89.5,545.4 L90.5,544.29 L91.5,542.26 L92.5,541.28 L93.5,539.3 L94.32,537.94 L95.14,535.68 L95.96,533.63 L96.78,533.59 L97.6,531.2 L98.27,528.85 L98.93,527.78 L99.6,525.87 L100.27,524.1 L100.93,523.21 L101.6,521.1 L102.28,520.27 L102.97,517.3 L103.65,516.33 L104.33,514.01 L105.02,512.79 L105.7,511 L106.13,509.07 L106.56,506.92 L106.99,505.16 L107.41,503.5 L107.84,503.02 L108.27,500.54 L108.7,498.8 L109.14,496.55 L109.59,496.05 L110.03,494.47 L110.47,491.74 L110.91,489.44 L111.36,487.79 L111.8,486.6 L112.04,484.24 L112.28,483.08 L112.52,481 L112.76,479.65 L113,478.5 L113.67,476.07 L114.33,474.63 L115,472.5 L115.33,471.5 L115.67,469.55 L116,467.24 L116.33,465.54 L116.67,464.04 L117,462.3 L117.4,460.46 L117.8,458.77 L118.2,456.65 L118.6,455.42 L119,454.2 L119.5,453.01 L120,449.46 L120.5,448.1 L122,446.1 L123.3,444.6 L124.15,446.81 L125,449 L125.25,450.9 L125.5,452.98 L125.75,453.48 L126,455.24 L126.25,456.86 L126.5,458.79 L126.75,460.54 L127,462.3 L127.2,464.74 L127.4,466.17 L127.6,467.83 L127.8,467.92 L128,469.56 L128.2,472.4 L128.4,474.35 L128.6,475.21 L128.8,477.04 L129,478.5 L129.18,479.26 L129.36,481.63 L129.55,484.26 L129.73,485.74 L129.91,487.46 L130.09,489.33 L130.27,489.69 L130.45,491.11 L130.64,492.85 L130.82,495.18 L131,496.8 L131.2,498.75 L131.4,500.83 L131.6,502.06 L131.8,503.55 L132,505.38 L132.2,506.44 L132.4,508.23 L132.6,508.93 L132.8,511.89 L133,513 L133.25,514.29 L133.5,517.31 L133.75,518.59 L134,519.75 L134.25,521.21 L134.5,523.2 L134.75,525.67 L135,527.2 L135.29,529.29 L135.57,529.96 L135.86,531.61 L136.14,534.16 L136.43,535.99 L136.71,537.37 L137,539.3 L137.4,540.42 L137.8,542.72 L138.2,543.28 L138.6,545.42 L139,547.4 L140,549.03 L141,551.63 L142,552.5 L143.5,553.51 L145,554.69 L146.5,554.75 L148,555.5 L149.71,555.64 L151.43,555.79 L153.14,555.93 L154.86,556.07 L156.57,556.21 L158.29,556.36 L160,556.5 L161.67,556.44 L163.33,556.39 L165,556.33 L166.67,556.28 L168.33,556.22 L170,556.17 L171.67,556.11 L173.33,556.06 L175,556 L176.67,555.83 L178.33,555.67 L180,555.5 L181.67,555.33 L183.33,555.17 L185,555 L186.67,555.5 L188.33,556 L190,556.5 L192,557 L194,557.5 L196,558" fill="none" stroke="#1fa3dc" stroke-width="1.2" stroke-linejoin="round"/>
<path d="M66,558.3 L67.67,558.17 L69.33,558.03 L71,557.9 L72.67,557.77 L74.33,557.63 L76,557.5 L77.6,556.6 L79.2,555.7 L80.8,554.8 L82.4,553.86 L84,553 L85.2,551.22 L86.4,549.94 L87.6,549.93 L88.8,548.17 L90,546.5 L90.96,544.53 L91.92,542.4 L92.88,541.64 L93.84,540.33 L94.8,538.4 L95.49,536.66 L96.18,534.76 L96.87,533.9 L97.56,532.77 L98.24,529.91 L98.93,527.96 L99.62,526.91 L100.31,525.46 L101,524 L101.72,522.66 L102.43,520.12 L103.15,519.53 L103.87,517.76 L104.58,515.68 L105.3,514 L105.83,511.76 L106.36,511.42 L106.89,508.52 L107.41,507.72 L107.94,504.94 L108.47,503.21 L109,502 L109.37,500.9 L109.74,498.49 L110.11,498.1 L110.49,495.71 L110.86,493.58 L111.23,492.07 L111.6,491 L111.92,489.02 L112.23,487.63 L112.55,486.31 L112.87,483.03 L113.18,481.64 L113.5,480 L114.08,477.91 L114.65,477.7 L115.22,474.63 L115.8,473.7 L116.11,471.22 L116.43,469.57 L116.74,468.49 L117.06,467.73 L117.37,466.03 L117.69,464.09 L118,462 L118.4,461.04 L118.8,459.06 L119.2,456.11 L119.6,453.99 L120,452.7 L120.5,451.93 L121,450.04 L121.5,447.21 L122,446.5 L123.3,445.1 L123.54,447 L123.79,448.08 L124.03,449.67 L124.27,451.2 L124.51,452.5 L124.76,453.81 L125,456.3 L125.15,457.61 L125.31,459.45 L125.46,462.24 L125.62,462.45 L125.77,465.67 L125.92,466.02 L126.08,468 L126.23,470.54 L126.38,472.25 L126.54,473.26 L126.69,474.27 L126.85,476.74 L127,478.5 L127.18,479.93 L127.36,482.58 L127.55,482.94 L127.73,484.91 L127.91,487.53 L128.09,487.64 L128.27,489.98 L128.45,492.37 L128.64,493.95 L128.82,494.31 L129,496.8 L129.2,497.58 L129.4,499.25 L129.6,502.42 L129.8,502.84 L130,505.35 L130.2,507.24 L130.4,507.85 L130.6,509.35 L130.8,512.2 L131,513 L131.25,514.99 L131.5,516.12 L131.75,518.71 L132,519.77 L132.25,521.47 L132.5,522.76 L132.75,525.89 L133,527.2 L133.29,529.68 L133.57,530.9 L133.86,533.18 L134.14,533.26 L134.43,535.36 L134.71,537.53 L135,539.3 L135.4,541.74 L135.8,543.36 L136.2,543.96 L136.6,545.33 L137,547.4 L138,548.97 L139,550.79 L140,552.5 L141.67,554.44 L143.33,554.83 L145,556 L146.67,556.11 L148.33,556.22 L150,556.33 L151.67,556.44 L153.33,556.56 L155,556.67 L156.67,556.78 L158.33,556.89 L160,557 L161.67,557.03 L163.33,557.06 L165,557.08 L166.67,557.11 L168.33,557.14 L170,557.17 L171.67,557.19 L173.33,557.22 L175,557.25 L176.67,557.28 L178.33,557.31 L180,557.33 L181.67,557.36 L183.33,557.39 L185,557.42 L186.67,557.44 L188.33,557.47 L190,557.5" fill="none" stroke="#000" stroke-width="1.1" stroke-linejoin="round"/>
<path d="M54,558.3 L55.7,558.2 L57.4,558.1 L59.1,558 L60.78,557.6 L62.47,557.2 L64.15,556.8 L65.83,556.4 L67.52,556 L69.2,555.6 L70.42,554.38 L71.64,552.59 L72.86,552.48 L74.08,551.15 L75.3,549.5 L76.1,548.46 L76.9,546.75 L77.7,544.83 L78.5,542.71 L79.3,541.4 L80.12,539.46 L80.94,537.91 L81.76,537.05 L82.58,534.16 L83.4,533.3 L83.9,531.06 L84.4,530.36 L84.9,527.75 L85.4,525.72 L85.9,523.96 L86.4,523.1 L86.94,521.57 L87.48,519.55 L88.02,519.1 L88.56,517.31 L89.1,515 L89.5,514.19 L89.9,511.21 L90.3,509.2 L90.7,507.54 L91.1,506.58 L91.5,504.9 L92,503.58 L92.5,501.4 L93,499.32 L93.5,497.95 L94,496.62 L94.5,494.7 L94.85,493.33 L95.2,491.78 L95.55,490.27 L95.9,488.26 L96.25,485.6 L96.6,484.6 L97.03,483.53 L97.47,480.86 L97.9,479.67 L98.33,477.64 L98.77,476.61 L99.2,474.5 L101.6,476.5 L103.7,474.5 L104.04,472.22 L104.39,470.56 L104.73,468.81 L105.07,466.9 L105.41,466.48 L105.76,464.18 L106.1,462.3 L106.33,460.26 L106.56,458.66 L106.79,458 L107.01,455.4 L107.24,453.17 L107.47,452.48 L107.7,450.2 L109.7,448.1 L112,446.1 L114.2,445.1 L115.5,448 L117.5,449.1 L117.8,451.22 L118.1,453.66 L118.4,453.9 L118.7,456.41 L119,458.3 L119.25,460.65 L119.5,462.46 L119.75,464.37 L120,464.57 L120.25,466.8 L120.5,468.26 L120.75,470.17 L121,472.5 L121.25,475.11 L121.5,476.17 L121.75,478.56 L122,479.32 L122.25,481.97 L122.5,482.98 L122.75,484.41 L123,486.6 L123.29,488.84 L123.57,490.89 L123.86,491.12 L124.14,493.74 L124.43,495.53 L124.71,496.55 L125,498.8 L125.25,500.34 L125.5,501.7 L125.75,503.59 L126,505.46 L126.25,507.85 L126.5,509.72 L126.75,510.69 L127,513 L127.25,513.9 L127.5,516.24 L127.75,518.65 L128,519.53 L128.25,521.54 L128.5,523.12 L128.75,525.96 L129,527.2 L129.29,529.02 L129.57,529.87 L129.86,531.67 L130.14,533.93 L130.43,535.93 L130.71,537.82 L131,539.3 L131.4,540.18 L131.8,541.93 L132.2,544.51 L132.6,545.62 L133,547.4 L134,548.71 L135,550.45 L136,552.5 L138,554.62 L140,555.1 L141.67,555.42 L143.33,555.73 L145,556.05 L146.67,556.37 L148.33,556.68 L150,557 L151.6,557.02 L153.2,557.04 L154.8,557.06 L156.4,557.08 L158,557.1 L159.6,557.12 L161.2,557.14 L162.8,557.16 L164.4,557.18 L166,557.2 L167.6,557.22 L169.2,557.24 L170.8,557.26 L172.4,557.28 L174,557.3 L175.6,557.32 L177.2,557.34 L178.8,557.36 L180.4,557.38 L182,557.4 L183.6,557.42 L185.2,557.44 L186.8,557.46 L188.4,557.48 L190,557.5" fill="none" stroke="#000" stroke-width="2.0" stroke-linejoin="round"/>
<line x1="48.9" y1="558.3" x2="53.2" y2="558.3" stroke="#000" stroke-width="1.1"/>
<text transform="translate(43.8,562.1)" font-size="11" text-anchor="end">0</text>
<line x1="51.6" y1="552.57" x2="53.2" y2="552.57" stroke="#000" stroke-width="1.0"/>
<line x1="51.6" y1="546.85" x2="53.2" y2="546.85" stroke="#000" stroke-width="1.0"/>
<line x1="51.6" y1="541.12" x2="53.2" y2="541.12" stroke="#000" stroke-width="1.0"/>
<line x1="48.9" y1="535.4" x2="53.2" y2="535.4" stroke="#000" stroke-width="1.1"/>
<text transform="translate(43.8,539.2)" font-size="11" text-anchor="end">20</text>
<line x1="51.6" y1="529.67" x2="53.2" y2="529.67" stroke="#000" stroke-width="1.0"/>
<line x1="51.6" y1="523.95" x2="53.2" y2="523.95" stroke="#000" stroke-width="1.0"/>
<line x1="51.6" y1="518.23" x2="53.2" y2="518.23" stroke="#000" stroke-width="1.0"/>
<line x1="48.9" y1="512.5" x2="53.2" y2="512.5" stroke="#000" stroke-width="1.1"/>
<text transform="translate(43.8,516.3)" font-size="11" text-anchor="end">40</text>
<line x1="51.6" y1="506.77" x2="53.2" y2="506.77" stroke="#000" stroke-width="1.0"/>
<line x1="51.6" y1="501.05" x2="53.2" y2="501.05" stroke="#000" stroke-width="1.0"/>
<line x1="51.6" y1="495.32" x2="53.2" y2="495.32" stroke="#000" stroke-width="1.0"/>
<line x1="48.9" y1="489.6" x2="53.2" y2="489.6" stroke="#000" stroke-width="1.1"/>
<text transform="translate(43.8,493.4)" font-size="11" text-anchor="end">60</text>
<line x1="51.6" y1="483.88" x2="53.2" y2="483.88" stroke="#000" stroke-width="1.0"/>
<line x1="51.6" y1="478.15" x2="53.2" y2="478.15" stroke="#000" stroke-width="1.0"/>
<line x1="51.6" y1="472.43" x2="53.2" y2="472.43" stroke="#000" stroke-width="1.0"/>
<line x1="48.9" y1="466.7" x2="53.2" y2="466.7" stroke="#000" stroke-width="1.1"/>
<text transform="translate(43.8,470.5)" font-size="11" text-anchor="end">80</text>
<line x1="51.6" y1="460.98" x2="53.2" y2="460.98" stroke="#000" stroke-width="1.0"/>
<line x1="51.6" y1="455.25" x2="53.2" y2="455.25" stroke="#000" stroke-width="1.0"/>
<line x1="51.6" y1="449.52" x2="53.2" y2="449.52" stroke="#000" stroke-width="1.0"/>
<line x1="48.9" y1="443.8" x2="53.2" y2="443.8" stroke="#000" stroke-width="1.1"/>
<text transform="translate(43.8,447.6)" font-size="11" text-anchor="end">100</text>
<line x1="90.6" y1="558.8" x2="90.6" y2="562" stroke="#000" stroke-width="1.1"/>
<line x1="146.5" y1="558.8" x2="146.5" y2="562" stroke="#000" stroke-width="1.1"/>
<line x1="188.4" y1="558.8" x2="188.4" y2="562" stroke="#000" stroke-width="1.1"/>
<line x1="227.6" y1="558.8" x2="227.6" y2="562" stroke="#000" stroke-width="1.1"/>
<line x1="159.11" y1="558.8" x2="159.11" y2="560.6" stroke="#000" stroke-width="0.9"/>
<line x1="166.49" y1="558.8" x2="166.49" y2="560.6" stroke="#000" stroke-width="0.9"/>
<line x1="171.73" y1="558.8" x2="171.73" y2="560.6" stroke="#000" stroke-width="0.9"/>
<line x1="175.79" y1="558.8" x2="175.79" y2="560.6" stroke="#000" stroke-width="0.9"/>
<line x1="179.1" y1="558.8" x2="179.1" y2="560.6" stroke="#000" stroke-width="0.9"/>
<line x1="181.91" y1="558.8" x2="181.91" y2="560.6" stroke="#000" stroke-width="0.9"/>
<line x1="184.34" y1="558.8" x2="184.34" y2="560.6" stroke="#000" stroke-width="0.9"/>
<line x1="186.48" y1="558.8" x2="186.48" y2="560.6" stroke="#000" stroke-width="0.9"/>
<line x1="200.2" y1="558.8" x2="200.2" y2="560.6" stroke="#000" stroke-width="0.9"/>
<line x1="207.1" y1="558.8" x2="207.1" y2="560.6" stroke="#000" stroke-width="0.9"/>
<line x1="212" y1="558.8" x2="212" y2="560.6" stroke="#000" stroke-width="0.9"/>
<line x1="215.8" y1="558.8" x2="215.8" y2="560.6" stroke="#000" stroke-width="0.9"/>
<line x1="218.9" y1="558.8" x2="218.9" y2="560.6" stroke="#000" stroke-width="0.9"/>
<line x1="221.53" y1="558.8" x2="221.53" y2="560.6" stroke="#000" stroke-width="0.9"/>
<line x1="223.8" y1="558.8" x2="223.8" y2="560.6" stroke="#000" stroke-width="0.9"/>
<line x1="225.81" y1="558.8" x2="225.81" y2="560.6" stroke="#000" stroke-width="0.9"/>
<line x1="117.21" y1="558.8" x2="117.21" y2="560.6" stroke="#000" stroke-width="0.9"/>
<line x1="124.59" y1="558.8" x2="124.59" y2="560.6" stroke="#000" stroke-width="0.9"/>
<line x1="129.83" y1="558.8" x2="129.83" y2="560.6" stroke="#000" stroke-width="0.9"/>
<line x1="133.89" y1="558.8" x2="133.89" y2="560.6" stroke="#000" stroke-width="0.9"/>
<line x1="137.2" y1="558.8" x2="137.2" y2="560.6" stroke="#000" stroke-width="0.9"/>
<line x1="140.01" y1="558.8" x2="140.01" y2="560.6" stroke="#000" stroke-width="0.9"/>
<line x1="142.44" y1="558.8" x2="142.44" y2="560.6" stroke="#000" stroke-width="0.9"/>
<line x1="144.58" y1="558.8" x2="144.58" y2="560.6" stroke="#000" stroke-width="0.9"/>
<line x1="84.3" y1="558.8" x2="84.3" y2="560.6" stroke="#000" stroke-width="0.9"/>
<line x1="96.9" y1="558.8" x2="96.9" y2="560.6" stroke="#000" stroke-width="0.9"/>
<line x1="78" y1="558.8" x2="78" y2="560.6" stroke="#000" stroke-width="0.9"/>
<line x1="103.2" y1="558.8" x2="103.2" y2="560.6" stroke="#000" stroke-width="0.9"/>
<line x1="239.4" y1="558.8" x2="239.4" y2="560.6" stroke="#000" stroke-width="0.9"/>
<rect x="53.2" y="438.2" width="190.4" height="120.6" fill="none" stroke="#000" stroke-width="1.3"/>
<text transform="translate(90.6,577.8)" font-size="11" text-anchor="middle">0</text>
<text transform="translate(138.8,577.8)" font-size="11">10<tspan font-size="8" dy="-4.4">3</tspan></text>
<text transform="translate(180.9,577.8)" font-size="11">10<tspan font-size="8" dy="-4.4">4</tspan></text>
<text transform="translate(220.2,577.8)" font-size="11">10<tspan font-size="8" dy="-4.4">5</tspan></text>
<text transform="translate(127.1,427.8)" font-size="12">T<tspan font-size="8.7" dy="3.6">CC+PD1</tspan></text>
<text transform="translate(19.3,500.8) rotate(-90)" font-size="11.8" text-anchor="middle">% Of max</text>
<line x1="171.4" y1="455.9" x2="188.5" y2="455.9" stroke="#c8c8c8" stroke-width="2.0"/>
<text transform="translate(194.2,460.1)" font-size="11.5">Isotype</text>
<line x1="171.4" y1="469.5" x2="182.9" y2="469.5" stroke="#000" stroke-width="2.0"/>
<text transform="translate(194.2,473.7)" font-size="11.5">UT</text>
<line x1="171.4" y1="483.1" x2="188.5" y2="483.1" stroke="#000" stroke-width="1.2"/>
<text transform="translate(194.2,487.3)" font-size="11.5">24<tspan dx="-1.2"> h</tspan></text>
<line x1="171.4" y1="496.7" x2="188.5" y2="496.7" stroke="#1fa3dc" stroke-width="1.4"/>
<text transform="translate(194.2,500.9)" font-size="11.5">48<tspan dx="-1.2"> h</tspan></text>
<line x1="171.4" y1="509.6" x2="188.5" y2="509.6" stroke="#db2529" stroke-width="1.4"/>
<text transform="translate(194.2,513.8)" font-size="11.5">72<tspan dx="-1.2"> h</tspan></text>
<line x1="56.6" y1="595.5" x2="185.5" y2="595.5" stroke="#000" stroke-width="1.3"/>
<path d="M176.5,590.2 L186.3,595.5 L176.5,600.8" fill="none" stroke="#000" stroke-width="1.3" stroke-linejoin="round"/>
<text transform="translate(193,599.6)" font-size="11.5">Glut1</text>
<text transform="translate(631.4,31.5)" font-size="12" text-anchor="middle" style="fill:#2f82c8;stroke:#2f82c8">Cells</text>
<line x1="618" y1="34.4" x2="645" y2="34.4" stroke="#5b9bd5" stroke-width="1.5"/>
<text transform="translate(840.9,27.8)" font-size="12" text-anchor="middle" style="fill:#2f82c8;stroke:#2f82c8">Supernatants</text>
<line x1="805" y1="33" x2="876.5" y2="33" stroke="#5b9bd5" stroke-width="1.5"/>
<text transform="translate(632.7,48.4)" font-size="12" text-anchor="middle">Glucose</text>
<line x1="543.4" y1="137.6" x2="546" y2="137.6" stroke="#000" stroke-width="1.1"/>
<text transform="translate(541,141.7) scale(0.97,1.0)" font-size="12" text-anchor="end">0</text>
<line x1="543.4" y1="121.38" x2="546" y2="121.38" stroke="#000" stroke-width="1.1"/>
<text transform="translate(541,125.48) scale(0.97,1.0)" font-size="12" text-anchor="end">1</text>
<line x1="543.4" y1="105.16" x2="546" y2="105.16" stroke="#000" stroke-width="1.1"/>
<text transform="translate(541,109.26) scale(0.97,1.0)" font-size="12" text-anchor="end">2</text>
<line x1="543.4" y1="88.94" x2="546" y2="88.94" stroke="#000" stroke-width="1.1"/>
<text transform="translate(541,93.04) scale(0.97,1.0)" font-size="12" text-anchor="end">3</text>
<line x1="543.4" y1="72.72" x2="546" y2="72.72" stroke="#000" stroke-width="1.1"/>
<text transform="translate(541,76.82) scale(0.97,1.0)" font-size="12" text-anchor="end">4</text>
<line x1="543.4" y1="56.5" x2="546" y2="56.5" stroke="#000" stroke-width="1.1"/>
<text transform="translate(541,60.6) scale(0.97,1.0)" font-size="12" text-anchor="end">5</text>
<line x1="603.6" y1="57.5" x2="603.6" y2="136.6" stroke="#d0d0d0" stroke-width="0.8"/>
<line x1="574.8" y1="137.6" x2="574.8" y2="140.6" stroke="#000" stroke-width="1.1"/>
<line x1="631.5" y1="137.6" x2="631.5" y2="140.6" stroke="#000" stroke-width="1.1"/>
<line x1="688.7" y1="137.6" x2="688.7" y2="140.6" stroke="#000" stroke-width="1.1"/>
<rect x="546" y="56.5" width="171.5" height="81.1" fill="none" stroke="#222" stroke-width="1.4"/>
<line x1="574.95" y1="91.9" x2="574.95" y2="96.6" stroke="#000" stroke-width="1.1"/>
<line x1="568.35" y1="91.9" x2="581.55" y2="91.9" stroke="#000" stroke-width="1.2"/>
<line x1="574.95" y1="124.7" x2="574.95" y2="131.4" stroke="#000" stroke-width="1.1" stroke-dasharray="1.2,1"/>
<line x1="568.35" y1="131.4" x2="581.55" y2="131.4" stroke="#000" stroke-width="1.2"/>
<rect x="560.5" y="96.6" width="28.9" height="28.1" fill="#dcdcdc" stroke="#111" stroke-width="1.35"/>
<line x1="560.5" y1="121.4" x2="589.4" y2="121.4" stroke="#111" stroke-width="1.35"/>
<line x1="572.6" y1="113.2" x2="577.2" y2="113.2" stroke="#000" stroke-width="1.5"/>
<line x1="574.9" y1="110.9" x2="574.9" y2="115.5" stroke="#000" stroke-width="1.5"/>
<line x1="631.95" y1="133.9" x2="631.95" y2="134.5" stroke="#000" stroke-width="1.1"/>
<line x1="624.75" y1="133.9" x2="639.15" y2="133.9" stroke="#000" stroke-width="1.2"/>
<rect x="617.4" y="134.5" width="29.1" height="2.9" fill="#0d1a26" stroke="#111" stroke-width="1.35"/>
<path d="M631.1,111.2 L633.8,114.4 L631.1,117.6 L628.4,114.4Z" fill="#000" stroke-linejoin="round"/>
<line x1="688.95" y1="106.7" x2="688.95" y2="118" stroke="#000" stroke-width="1.1" stroke-dasharray="1.2,1"/>
<line x1="682.05" y1="118" x2="695.85" y2="118" stroke="#000" stroke-width="1.2"/>
<rect x="674.4" y="98.1" width="29.1" height="8.6" fill="#f28a8a" stroke="#111" stroke-width="1.35"/>
<line x1="674.4" y1="104.8" x2="703.5" y2="104.8" stroke="#111" stroke-width="1.35"/>
<path d="M689,98.5 L691,102.1 L687,102.1Z" fill="#000" stroke-linejoin="round"/>
<path d="M689,81.2 L689.79,83.11 L691.85,83.27 L690.28,84.62 L690.76,86.63 L689,85.55 L687.24,86.63 L687.72,84.62 L686.15,83.27 L688.21,83.11Z" fill="#000" stroke-linejoin="round"/>
<text transform="translate(575.1,158.6) scale(0.97,1.0)" font-size="12" text-anchor="middle">UT</text>
<text transform="translate(622.3,158.6)" font-size="12">T<tspan font-size="9.3" dy="3.4">CC</tspan></text>
<text transform="translate(668,158.6)" font-size="12">T<tspan font-size="8.6" dy="3.4">CC+PD1</tspan></text>
<text transform="translate(840.4,49.3)" font-size="12" text-anchor="middle">Glucose</text>
<line x1="754.8" y1="138.9" x2="757.4" y2="138.9" stroke="#000" stroke-width="1.1"/>
<text transform="translate(751.2,143) scale(0.97,1.0)" font-size="12" text-anchor="end">0.0</text>
<line x1="754.8" y1="125.33" x2="757.4" y2="125.33" stroke="#000" stroke-width="1.1"/>
<text transform="translate(751.2,129.43) scale(0.97,1.0)" font-size="12" text-anchor="end">0.2</text>
<line x1="754.8" y1="111.77" x2="757.4" y2="111.77" stroke="#000" stroke-width="1.1"/>
<text transform="translate(751.2,115.87) scale(0.97,1.0)" font-size="12" text-anchor="end">0.4</text>
<line x1="754.8" y1="98.2" x2="757.4" y2="98.2" stroke="#000" stroke-width="1.1"/>
<text transform="translate(751.2,102.3) scale(0.97,1.0)" font-size="12" text-anchor="end">0.6</text>
<line x1="754.8" y1="84.63" x2="757.4" y2="84.63" stroke="#000" stroke-width="1.1"/>
<text transform="translate(751.2,88.73) scale(0.97,1.0)" font-size="12" text-anchor="end">0.8</text>
<line x1="754.8" y1="71.07" x2="757.4" y2="71.07" stroke="#000" stroke-width="1.1"/>
<text transform="translate(751.2,75.17) scale(0.97,1.0)" font-size="12" text-anchor="end">1.0</text>
<line x1="754.8" y1="57.5" x2="757.4" y2="57.5" stroke="#000" stroke-width="1.1"/>
<text transform="translate(751.2,61.6) scale(0.97,1.0)" font-size="12" text-anchor="end">1.2</text>
<line x1="813.8" y1="58.5" x2="813.8" y2="137.9" stroke="#d0d0d0" stroke-width="0.8"/>
<line x1="785.8" y1="138.9" x2="785.8" y2="141.9" stroke="#000" stroke-width="1.1"/>
<line x1="840.7" y1="138.9" x2="840.7" y2="141.9" stroke="#000" stroke-width="1.1"/>
<line x1="895.8" y1="138.9" x2="895.8" y2="141.9" stroke="#000" stroke-width="1.1"/>
<rect x="757.4" y="57.5" width="166" height="81.4" fill="none" stroke="#222" stroke-width="1.4"/>
<line x1="785.75" y1="68" x2="785.75" y2="68.3" stroke="#000" stroke-width="1.1"/>
<line x1="779.05" y1="68" x2="792.45" y2="68" stroke="#000" stroke-width="1.2"/>
<line x1="785.75" y1="71.6" x2="785.75" y2="74.7" stroke="#000" stroke-width="1.1"/>
<line x1="779.05" y1="74.7" x2="792.45" y2="74.7" stroke="#000" stroke-width="1.2"/>
<rect x="771.5" y="68.3" width="28.5" height="3.3" fill="#fff" stroke="#111" stroke-width="1.35"/>
<line x1="771.5" y1="70.5" x2="800" y2="70.5" stroke="#111" stroke-width="1.35"/>
<line x1="783.5" y1="70" x2="788.1" y2="70" stroke="#000" stroke-width="1.5"/>
<line x1="785.8" y1="67.7" x2="785.8" y2="72.3" stroke="#000" stroke-width="1.5"/>
<line x1="840.55" y1="89.4" x2="840.55" y2="94" stroke="#000" stroke-width="1.1"/>
<line x1="833.55" y1="89.4" x2="847.55" y2="89.4" stroke="#000" stroke-width="1.2"/>
<rect x="826.6" y="94" width="27.9" height="14.6" fill="#22bdf2" stroke="#111" stroke-width="1.35"/>
<line x1="826.6" y1="102.3" x2="854.5" y2="102.3" stroke="#111" stroke-width="1.35"/>
<path d="M840.7,98.1 L842.7,101.7 L838.7,101.7Z" fill="#000" stroke-linejoin="round"/>
<path d="M840.7,70 L843.4,73.2 L840.7,76.4 L838,73.2Z" fill="#000" stroke-linejoin="round"/>
<line x1="895.75" y1="64.5" x2="895.75" y2="66.4" stroke="#000" stroke-width="1.1"/>
<line x1="888.85" y1="64.5" x2="902.65" y2="64.5" stroke="#000" stroke-width="1.2"/>
<line x1="895.75" y1="69.2" x2="895.75" y2="71.4" stroke="#000" stroke-width="1.1"/>
<line x1="888.85" y1="71.4" x2="902.65" y2="71.4" stroke="#000" stroke-width="1.2"/>
<rect x="881.6" y="66.4" width="28.3" height="2.8" fill="#c06060" stroke="#111" stroke-width="1.35"/>
<line x1="881.6" y1="67.7" x2="909.9" y2="67.7" stroke="#111" stroke-width="1.35"/>
<path d="M895.8,65.6 L897.8,69.2 L893.8,69.2Z" fill="#000" stroke-linejoin="round"/>
<path d="M895.6,57.8 L896.39,59.71 L898.45,59.87 L896.88,61.22 L897.36,63.23 L895.6,62.15 L893.84,63.23 L894.32,61.22 L892.75,59.87 L894.81,59.71Z" fill="#000" stroke-linejoin="round"/>
<text transform="translate(785.4,159.6) scale(0.97,1.0)" font-size="12" text-anchor="middle">UT</text>
<text transform="translate(833.6,159.6)" font-size="12">T<tspan font-size="9.3" dy="3.4">CC</tspan></text>
<text transform="translate(874.8,159.6)" font-size="12">T<tspan font-size="8.6" dy="3.4">CC+PD1</tspan></text>
<text transform="translate(943.2,97.6) rotate(-90) scale(0.97,1.0)" font-size="12" text-anchor="middle">Scaled intensity</text>
<text transform="translate(633.7,189.6)" font-size="12" text-anchor="middle">6-Phosphogluconate</text>
<line x1="548.6" y1="280" x2="551.2" y2="280" stroke="#000" stroke-width="1.1"/>
<text transform="translate(546,284.1) scale(0.97,1.0)" font-size="12" text-anchor="end">0.0</text>
<line x1="548.6" y1="266.47" x2="551.2" y2="266.47" stroke="#000" stroke-width="1.1"/>
<text transform="translate(546,270.57) scale(0.97,1.0)" font-size="12" text-anchor="end">0.5</text>
<line x1="548.6" y1="252.93" x2="551.2" y2="252.93" stroke="#000" stroke-width="1.1"/>
<text transform="translate(546,257.03) scale(0.97,1.0)" font-size="12" text-anchor="end">1.0</text>
<line x1="548.6" y1="239.4" x2="551.2" y2="239.4" stroke="#000" stroke-width="1.1"/>
<text transform="translate(546,243.5) scale(0.97,1.0)" font-size="12" text-anchor="end">1.5</text>
<line x1="548.6" y1="225.87" x2="551.2" y2="225.87" stroke="#000" stroke-width="1.1"/>
<text transform="translate(546,229.97) scale(0.97,1.0)" font-size="12" text-anchor="end">2.0</text>
<line x1="548.6" y1="212.33" x2="551.2" y2="212.33" stroke="#000" stroke-width="1.1"/>
<text transform="translate(546,216.43) scale(0.97,1.0)" font-size="12" text-anchor="end">2.5</text>
<line x1="548.6" y1="198.8" x2="551.2" y2="198.8" stroke="#000" stroke-width="1.1"/>
<text transform="translate(546,202.9) scale(0.97,1.0)" font-size="12" text-anchor="end">3.0</text>
<line x1="606.8" y1="199.8" x2="606.8" y2="279" stroke="#d0d0d0" stroke-width="0.8"/>
<line x1="579" y1="280" x2="579" y2="283" stroke="#000" stroke-width="1.1"/>
<line x1="633.5" y1="280" x2="633.5" y2="283" stroke="#000" stroke-width="1.1"/>
<line x1="689.1" y1="280" x2="689.1" y2="283" stroke="#000" stroke-width="1.1"/>
<rect x="551.2" y="198.8" width="165.4" height="81.2" fill="none" stroke="#222" stroke-width="1.4"/>
<line x1="579.15" y1="239.8" x2="579.15" y2="246.7" stroke="#000" stroke-width="1.1" stroke-dasharray="1.2,1"/>
<line x1="572.35" y1="246.7" x2="585.95" y2="246.7" stroke="#000" stroke-width="1.2"/>
<rect x="565.5" y="227.8" width="27.3" height="12" fill="#dcdcdc" stroke="#111" stroke-width="1.35"/>
<line x1="565.5" y1="235.3" x2="592.8" y2="235.3" stroke="#111" stroke-width="1.35"/>
<line x1="576.7" y1="231" x2="581.3" y2="231" stroke="#000" stroke-width="1.5"/>
<line x1="579" y1="228.7" x2="579" y2="233.3" stroke="#000" stroke-width="1.5"/>
<rect x="619.9" y="267.3" width="28" height="1.6" fill="#222" stroke="#111" stroke-width="1.35"/>
<circle cx="633.9" cy="261.8" r="1.7" fill="#fff" stroke="#000" stroke-width="1.1"/>
<path d="M633.9,238.2 L636.6,241.4 L633.9,244.6 L631.2,241.4Z" fill="#000" stroke-linejoin="round"/>
<line x1="688.75" y1="243.4" x2="688.75" y2="247.2" stroke="#000" stroke-width="1.1"/>
<line x1="682.25" y1="243.4" x2="695.25" y2="243.4" stroke="#000" stroke-width="1.2"/>
<line x1="688.75" y1="257.4" x2="688.75" y2="270.7" stroke="#000" stroke-width="1.1" stroke-dasharray="1.2,1"/>
<line x1="682.25" y1="270.7" x2="695.25" y2="270.7" stroke="#000" stroke-width="1.2"/>
<rect x="674.8" y="247.2" width="27.9" height="10.2" fill="#f28a8a" stroke="#111" stroke-width="1.35"/>
<line x1="674.8" y1="252.2" x2="702.7" y2="252.2" stroke="#111" stroke-width="1.35"/>
<path d="M689.1,252.2 L691.1,255.8 L687.1,255.8Z" fill="#000" stroke-linejoin="round"/>
<path d="M689.1,228.4 L689.89,230.31 L691.95,230.47 L690.38,231.82 L690.86,233.83 L689.1,232.75 L687.34,233.83 L687.82,231.82 L686.25,230.47 L688.31,230.31Z" fill="#000" stroke-linejoin="round"/>
<text transform="translate(579.2,300.1) scale(0.97,1.0)" font-size="12" text-anchor="middle">UT</text>
<text transform="translate(627,300.1)" font-size="12">T<tspan font-size="9.3" dy="3.4">CC</tspan></text>
<text transform="translate(674,300.1)" font-size="12">T<tspan font-size="8.6" dy="3.4">CC+PD1</tspan></text>
<text transform="translate(841.8,187.7)" font-size="12" text-anchor="middle">Lactate</text>
<line x1="753.1" y1="280.1" x2="755.7" y2="280.1" stroke="#000" stroke-width="1.1"/>
<text transform="translate(751.2,284.2) scale(0.97,1.0)" font-size="12" text-anchor="end">0</text>
<line x1="753.1" y1="263.82" x2="755.7" y2="263.82" stroke="#000" stroke-width="1.1"/>
<text transform="translate(751.2,267.92) scale(0.97,1.0)" font-size="12" text-anchor="end">1</text>
<line x1="753.1" y1="247.54" x2="755.7" y2="247.54" stroke="#000" stroke-width="1.1"/>
<text transform="translate(751.2,251.64) scale(0.97,1.0)" font-size="12" text-anchor="end">2</text>
<line x1="753.1" y1="231.26" x2="755.7" y2="231.26" stroke="#000" stroke-width="1.1"/>
<text transform="translate(751.2,235.36) scale(0.97,1.0)" font-size="12" text-anchor="end">3</text>
<line x1="753.1" y1="214.98" x2="755.7" y2="214.98" stroke="#000" stroke-width="1.1"/>
<text transform="translate(751.2,219.08) scale(0.97,1.0)" font-size="12" text-anchor="end">4</text>
<line x1="753.1" y1="198.7" x2="755.7" y2="198.7" stroke="#000" stroke-width="1.1"/>
<text transform="translate(751.2,202.8) scale(0.97,1.0)" font-size="12" text-anchor="end">5</text>
<line x1="813.8" y1="199.7" x2="813.8" y2="279.1" stroke="#d0d0d0" stroke-width="0.8"/>
<line x1="785" y1="280.1" x2="785" y2="283.1" stroke="#000" stroke-width="1.1"/>
<line x1="842.3" y1="280.1" x2="842.3" y2="283.1" stroke="#000" stroke-width="1.1"/>
<line x1="899.1" y1="280.1" x2="899.1" y2="283.1" stroke="#000" stroke-width="1.1"/>
<rect x="755.7" y="198.7" width="171.9" height="81.4" fill="none" stroke="#222" stroke-width="1.4"/>
<rect x="770.7" y="265.2" width="28.8" height="1.8" fill="#222" stroke="#111" stroke-width="1.35"/>
<line x1="782.7" y1="266.3" x2="787.3" y2="266.3" stroke="#000" stroke-width="1.5"/>
<line x1="785" y1="264" x2="785" y2="268.6" stroke="#000" stroke-width="1.5"/>
<line x1="842" y1="213.2" x2="842" y2="222.4" stroke="#000" stroke-width="1.1" stroke-dasharray="1.2,1"/>
<line x1="835.3" y1="222.4" x2="848.7" y2="222.4" stroke="#000" stroke-width="1.2"/>
<rect x="827.4" y="203.7" width="29.2" height="9.5" fill="#22bdf2" stroke="#111" stroke-width="1.35"/>
<line x1="827.4" y1="212" x2="856.6" y2="212" stroke="#111" stroke-width="1.35"/>
<path d="M842,207.9 L844,211.5 L840,211.5Z" fill="#000" stroke-linejoin="round"/>
<path d="M842,195.3 L844.7,198.5 L842,201.7 L839.3,198.5Z" fill="#000" stroke-linejoin="round"/>
<rect x="884.9" y="263.1" width="29.2" height="1.8" fill="#222" stroke="#111" stroke-width="1.35"/>
<line x1="896.7" y1="263.5" x2="901.3" y2="263.5" stroke="#000" stroke-width="1.5"/>
<line x1="899" y1="261.2" x2="899" y2="265.8" stroke="#000" stroke-width="1.5"/>
<path d="M899,245.5 L899.79,247.41 L901.85,247.57 L900.28,248.92 L900.76,250.93 L899,249.85 L897.24,250.93 L897.72,248.92 L896.15,247.57 L898.21,247.41Z" fill="#000" stroke-linejoin="round"/>
<text transform="translate(785.3,300) scale(0.97,1.0)" font-size="12" text-anchor="middle">UT</text>
<text transform="translate(832.6,300)" font-size="12">T<tspan font-size="9.3" dy="3.4">CC</tspan></text>
<text transform="translate(878.2,300)" font-size="12">T<tspan font-size="8.6" dy="3.4">CC+PD1</tspan></text>
<text transform="translate(943.5,239.2) rotate(-90) scale(0.97,1.0)" font-size="12" text-anchor="middle">Scaled intensity</text>
<text transform="translate(634,332.1)" font-size="12" text-anchor="middle">Isobar: fructose 1,6-diphosphate;</text>
<text transform="translate(634.2,346.1)" font-size="12" text-anchor="middle">glucose 1,6-diphosphate</text>
<line x1="547.3" y1="438.7" x2="549.9" y2="438.7" stroke="#000" stroke-width="1.1"/>
<text transform="translate(543.8,442.8) scale(0.97,1.0)" font-size="12" text-anchor="end">0.0</text>
<line x1="547.3" y1="417.6" x2="549.9" y2="417.6" stroke="#000" stroke-width="1.1"/>
<text transform="translate(543.8,421.7) scale(0.97,1.0)" font-size="12" text-anchor="end">1.0</text>
<line x1="547.3" y1="396.5" x2="549.9" y2="396.5" stroke="#000" stroke-width="1.1"/>
<text transform="translate(543.8,400.6) scale(0.97,1.0)" font-size="12" text-anchor="end">2.0</text>
<line x1="547.3" y1="375.4" x2="549.9" y2="375.4" stroke="#000" stroke-width="1.1"/>
<text transform="translate(543.8,379.5) scale(0.97,1.0)" font-size="12" text-anchor="end">3.0</text>
<line x1="547.3" y1="354.3" x2="549.9" y2="354.3" stroke="#000" stroke-width="1.1"/>
<text transform="translate(543.8,358.4) scale(0.97,1.0)" font-size="12" text-anchor="end">4.0</text>
<line x1="547.9" y1="428.15" x2="549.9" y2="428.15" stroke="#000" stroke-width="1.0"/>
<line x1="547.9" y1="407.05" x2="549.9" y2="407.05" stroke="#000" stroke-width="1.0"/>
<line x1="547.9" y1="385.95" x2="549.9" y2="385.95" stroke="#000" stroke-width="1.0"/>
<line x1="547.9" y1="364.85" x2="549.9" y2="364.85" stroke="#000" stroke-width="1.0"/>
<line x1="606.8" y1="355.3" x2="606.8" y2="437.7" stroke="#d0d0d0" stroke-width="0.8"/>
<line x1="578.5" y1="438.7" x2="578.5" y2="441.7" stroke="#000" stroke-width="1.1"/>
<line x1="634.3" y1="438.7" x2="634.3" y2="441.7" stroke="#000" stroke-width="1.1"/>
<line x1="689.9" y1="438.7" x2="689.9" y2="441.7" stroke="#000" stroke-width="1.1"/>
<rect x="549.9" y="354.3" width="167.4" height="84.4" fill="none" stroke="#222" stroke-width="1.4"/>
<line x1="578.5" y1="430.6" x2="578.5" y2="436.2" stroke="#000" stroke-width="1.1" stroke-dasharray="1.2,1"/>
<line x1="571.7" y1="436.2" x2="585.3" y2="436.2" stroke="#000" stroke-width="1.2"/>
<rect x="564.2" y="422.3" width="28.6" height="8.3" fill="#dcdcdc" stroke="#111" stroke-width="1.35"/>
<line x1="564.2" y1="424.2" x2="592.8" y2="424.2" stroke="#111" stroke-width="1.35"/>
<path d="M578.5,418.6 L580.5,422.2 L576.5,422.2Z" fill="#000" stroke-linejoin="round"/>
<line x1="634.45" y1="394.4" x2="634.45" y2="397.5" stroke="#000" stroke-width="1.1"/>
<line x1="627.45" y1="397.5" x2="641.45" y2="397.5" stroke="#000" stroke-width="1.2"/>
<rect x="620.5" y="385.1" width="27.9" height="9.3" fill="#22bdf2" stroke="#111" stroke-width="1.35"/>
<line x1="634.4" y1="382.6" x2="634.4" y2="385.1" stroke="#000" stroke-width="1.1"/>
<path d="M634.3,381.4 L636.3,385 L632.3,385Z" fill="#000" stroke-linejoin="round"/>
<path d="M634.3,365.1 L637,368.3 L634.3,371.5 L631.6,368.3Z" fill="#000" stroke-linejoin="round"/>
<line x1="690.4" y1="408.5" x2="690.4" y2="418.2" stroke="#000" stroke-width="1.1" stroke-dasharray="1.2,1"/>
<line x1="683.6" y1="408.5" x2="697.2" y2="408.5" stroke="#000" stroke-width="1.2"/>
<line x1="690.4" y1="432.2" x2="690.4" y2="435.9" stroke="#000" stroke-width="1.1"/>
<line x1="683.6" y1="435.9" x2="697.2" y2="435.9" stroke="#000" stroke-width="1.2"/>
<rect x="676.3" y="418.2" width="28.2" height="14" fill="#f28a8a" stroke="#111" stroke-width="1.35"/>
<line x1="676.3" y1="425.5" x2="704.5" y2="425.5" stroke="#111" stroke-width="1.35"/>
<path d="M689.9,421.2 L691.9,424.8 L687.9,424.8Z" fill="#000" stroke-linejoin="round"/>
<path d="M689.9,392.2 L690.69,394.11 L692.75,394.27 L691.18,395.62 L691.66,397.63 L689.9,396.55 L688.14,397.63 L688.62,395.62 L687.05,394.27 L689.11,394.11Z" fill="#000" stroke-linejoin="round"/>
<text transform="translate(578.2,457.8) scale(0.97,1.0)" font-size="12" text-anchor="middle">UT</text>
<text transform="translate(624.4,457.8)" font-size="12">T<tspan font-size="9.3" dy="3.4">CC</tspan></text>
<text transform="translate(668.2,457.8)" font-size="12">T<tspan font-size="8.6" dy="3.4">CC+PD1</tspan></text>
<text transform="translate(846.6,345.4)" font-size="12" text-anchor="middle">Pyruvate</text>
<line x1="760.3" y1="438.3" x2="762.9" y2="438.3" stroke="#000" stroke-width="1.1"/>
<text transform="translate(757.2,442.4) scale(0.97,1.0)" font-size="12" text-anchor="end">0.0</text>
<line x1="760.3" y1="417.57" x2="762.9" y2="417.57" stroke="#000" stroke-width="1.1"/>
<text transform="translate(757.2,421.68) scale(0.97,1.0)" font-size="12" text-anchor="end">0.5</text>
<line x1="760.3" y1="396.85" x2="762.9" y2="396.85" stroke="#000" stroke-width="1.1"/>
<text transform="translate(757.2,400.95) scale(0.97,1.0)" font-size="12" text-anchor="end">1.0</text>
<line x1="760.3" y1="376.12" x2="762.9" y2="376.12" stroke="#000" stroke-width="1.1"/>
<text transform="translate(757.2,380.23) scale(0.97,1.0)" font-size="12" text-anchor="end">1.5</text>
<line x1="760.3" y1="355.4" x2="762.9" y2="355.4" stroke="#000" stroke-width="1.1"/>
<text transform="translate(757.2,359.5) scale(0.97,1.0)" font-size="12" text-anchor="end">2.0</text>
<line x1="818.7" y1="356.4" x2="818.7" y2="437.3" stroke="#d0d0d0" stroke-width="0.8"/>
<line x1="791.2" y1="438.3" x2="791.2" y2="441.3" stroke="#000" stroke-width="1.1"/>
<line x1="846.1" y1="438.3" x2="846.1" y2="441.3" stroke="#000" stroke-width="1.1"/>
<line x1="901" y1="438.3" x2="901" y2="441.3" stroke="#000" stroke-width="1.1"/>
<rect x="762.9" y="355.4" width="166.3" height="82.9" fill="none" stroke="#222" stroke-width="1.4"/>
<rect x="777.3" y="396.1" width="27.8" height="2.4" fill="#444" stroke="#111" stroke-width="1.35"/>
<circle cx="791.3" cy="393.3" r="1.7" fill="#fff" stroke="#000" stroke-width="1.1"/>
<circle cx="791.3" cy="405.8" r="1.7" fill="#fff" stroke="#000" stroke-width="1.1"/>
<line x1="846.05" y1="366.8" x2="846.05" y2="379.3" stroke="#000" stroke-width="1.1" stroke-dasharray="1.2,1"/>
<line x1="839.25" y1="366.8" x2="852.85" y2="366.8" stroke="#000" stroke-width="1.2"/>
<line x1="846.05" y1="394.8" x2="846.05" y2="395.3" stroke="#000" stroke-width="1.1"/>
<line x1="839.25" y1="395.3" x2="852.85" y2="395.3" stroke="#000" stroke-width="1.2"/>
<rect x="832.4" y="379.3" width="27.3" height="15.5" fill="#22bdf2" stroke="#111" stroke-width="1.35"/>
<line x1="832.4" y1="381.6" x2="859.7" y2="381.6" stroke="#111" stroke-width="1.35"/>
<path d="M846.4,381.6 L848.4,385.2 L844.4,385.2Z" fill="#000" stroke-linejoin="round"/>
<path d="M846.4,354 L849.1,357.2 L846.4,360.4 L843.7,357.2Z" fill="#000" stroke-linejoin="round"/>
<line x1="901.1" y1="393" x2="901.1" y2="397.3" stroke="#000" stroke-width="1.1"/>
<line x1="894.4" y1="393" x2="907.8" y2="393" stroke="#000" stroke-width="1.2"/>
<rect x="887.1" y="397.3" width="28" height="4.4" fill="#d07070" stroke="#111" stroke-width="1.35"/>
<line x1="887.1" y1="399.6" x2="915.1" y2="399.6" stroke="#111" stroke-width="1.35"/>
<path d="M900.8,396.6 L902.8,400.2 L898.8,400.2Z" fill="#000" stroke-linejoin="round"/>
<circle cx="900.8" cy="408" r="1.7" fill="#fff" stroke="#000" stroke-width="1.1"/>
<path d="M900.8,382.7 L901.59,384.61 L903.65,384.77 L902.08,386.12 L902.56,388.13 L900.8,387.05 L899.04,388.13 L899.52,386.12 L897.95,384.77 L900.01,384.61Z" fill="#000" stroke-linejoin="round"/>
<text transform="translate(791.4,457.6) scale(0.97,1.0)" font-size="12" text-anchor="middle">UT</text>
<text transform="translate(837.7,457.6)" font-size="12">T<tspan font-size="9.3" dy="3.4">CC</tspan></text>
<text transform="translate(880.9,457.6)" font-size="12">T<tspan font-size="8.6" dy="3.4">CC+PD1</tspan></text>
<text transform="translate(943.2,395.2) rotate(-90) scale(0.97,1.0)" font-size="12" text-anchor="middle">Scaled intensity</text>
</svg></body></html>
